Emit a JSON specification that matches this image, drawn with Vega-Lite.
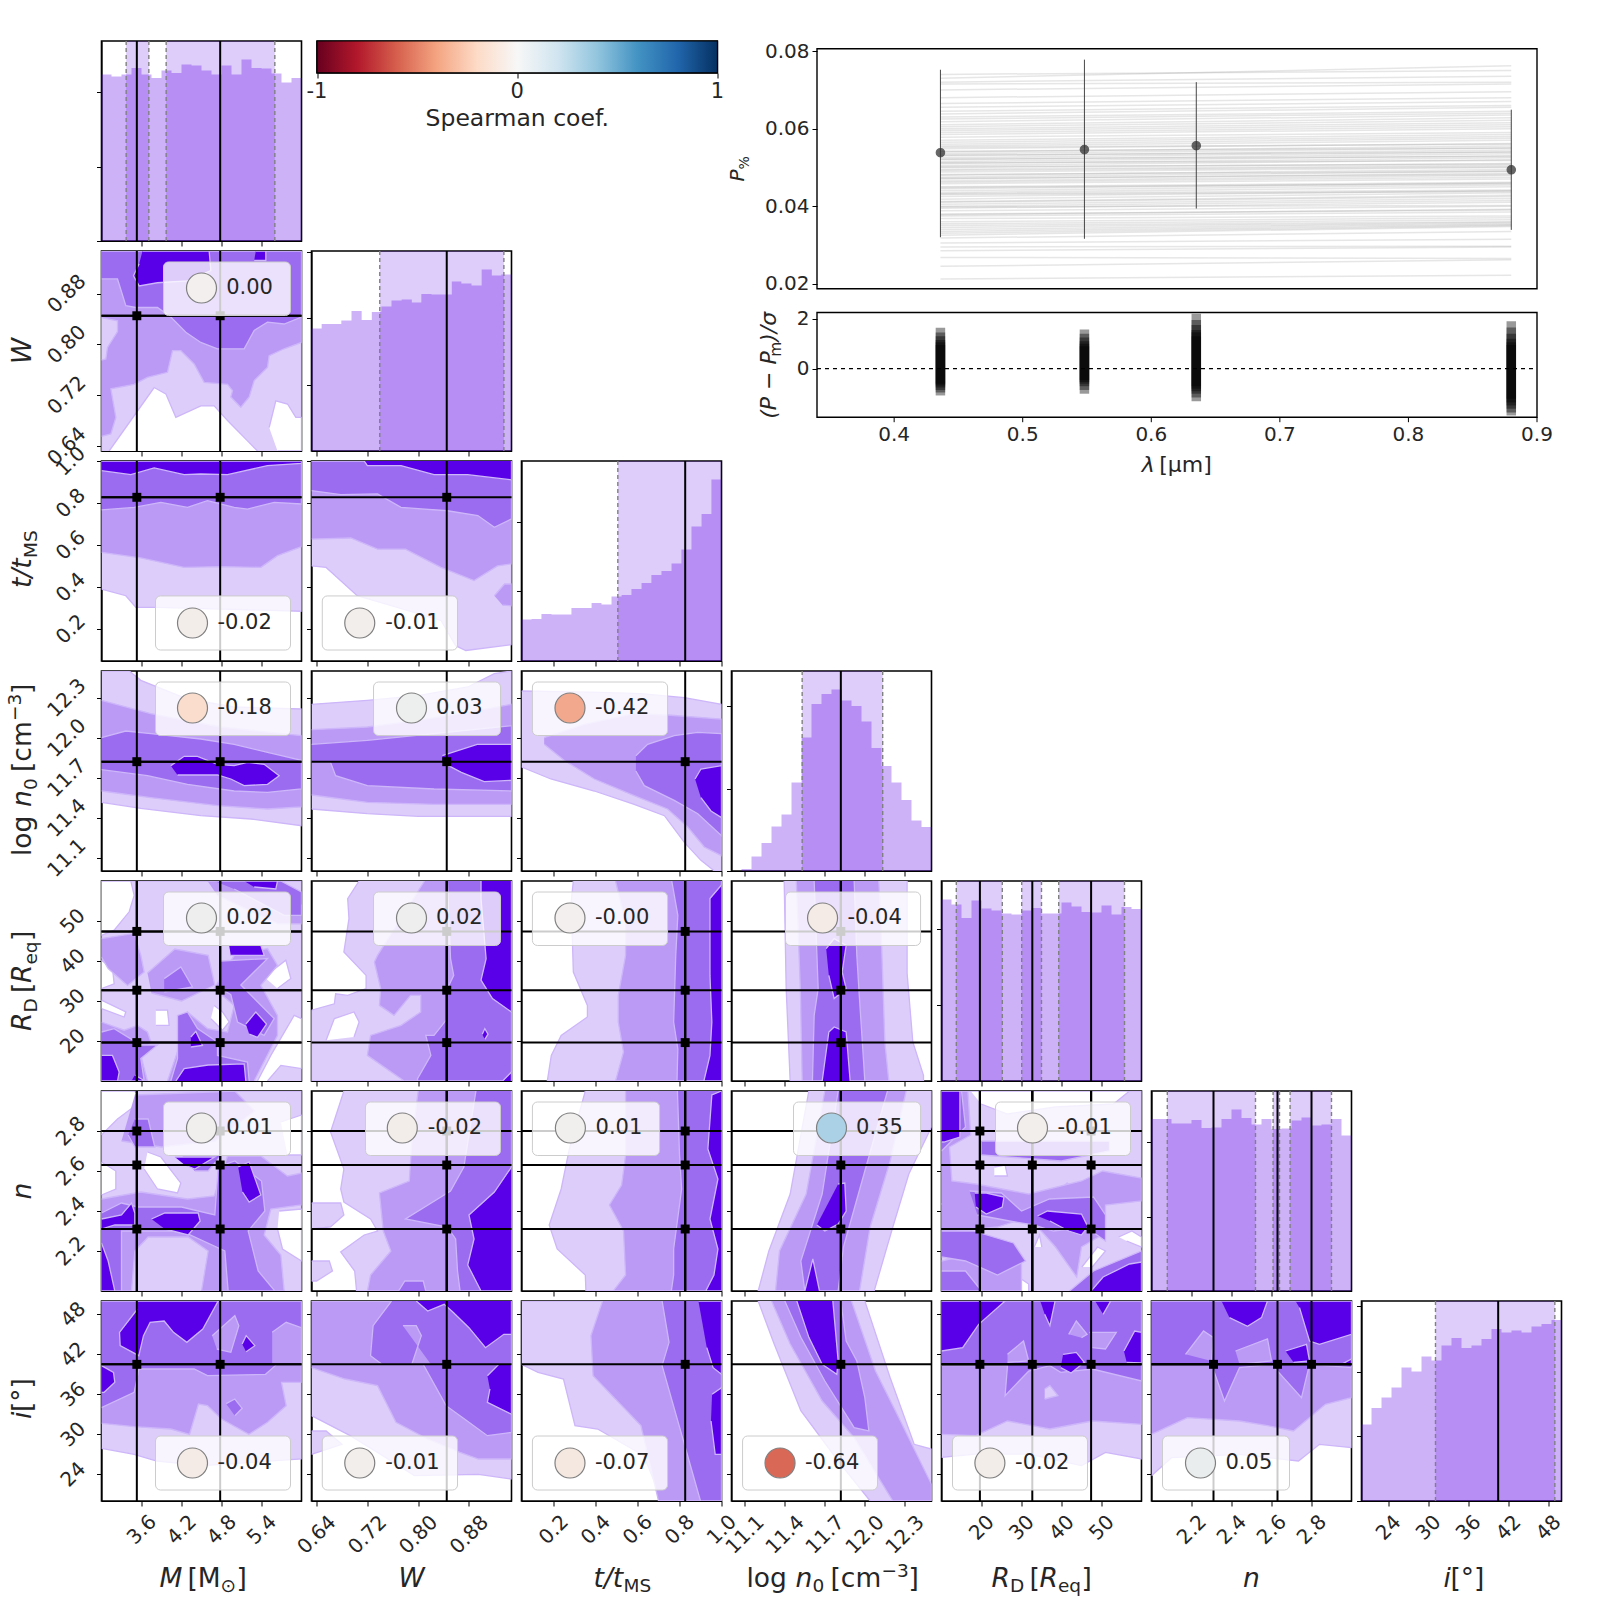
{"$schema":"https://vega.github.io/schema/vega-lite/v5.json","background":"#fff","padding":{"left":4.5,"top":39,"right":0,"bottom":0},
"config":{"legend":{"disable":true},"view":{"continuousWidth":200,"continuousHeight":200,"stroke":"#000","strokeWidth":1.6},
"range":{"ordinal":["#ffffff","#ddcdfa","#bb9af6","#9b6bf0","#5a00e8"]},
"axis":{"grid":false,"labels":false,"domain":true,"domainColor":"#000","domainWidth":1.2,"tickColor":"#000","tickSize":5,"tickWidth":1,"zindex":1,"labelFont":"DejaVu Sans","labelFontSize":20,"labelColor":"#262626","labelAngle":-45,"labelAlign":"center","labelBaseline":"middle","labelBound":false,"labelFlush":false,"labelOverlap":false},
"rule":{"color":"#000","strokeWidth":2},"square":{"size":80,"filled":true,"color":"#000","opacity":1},"circle":{"size":900,"stroke":"#808080","strokeWidth":1.2,"opacity":1},"text":{"font":"DejaVu Sans","fill":"#262626","baseline":"alphabetic","align":"left","fontSize":26.5}},
"datasets":{
"c21":[{"g":1,"l":1,"x":3,"y":0.632},{"g":1,"l":1,"x":3,"y":0.947},{"g":1,"l":1,"x":6,"y":0.947},{"g":1,"l":1,"x":6,"y":0.632},{"g":2,"l":0,"x":3.115,"y":0.632},{"g":2,"l":0,"x":3.54,"y":0.695},{"g":2,"l":0,"x":3.79,"y":0.732},{"g":2,"l":0,"x":3.965,"y":0.722},{"g":2,"l":0,"x":4.115,"y":0.685},{"g":2,"l":0,"x":4.49,"y":0.703},{"g":2,"l":0,"x":4.69,"y":0.703},{"g":2,"l":0,"x":4.89,"y":0.68},{"g":2,"l":0,"x":5.19,"y":0.648},{"g":2,"l":0,"x":5.34,"y":0.632},{"g":3,"l":0,"x":5.515,"y":0.669},{"g":3,"l":0,"x":5.615,"y":0.711},{"g":3,"l":0,"x":5.79,"y":0.706},{"g":3,"l":0,"x":5.915,"y":0.685},{"g":3,"l":0,"x":6,"y":0.685},{"g":3,"l":0,"x":6,"y":0.632},{"g":3,"l":0,"x":5.64,"y":0.632},{"g":4,"l":2,"x":3,"y":0.947},{"g":4,"l":2,"x":6,"y":0.947},{"g":4,"l":2,"x":6,"y":0.803},{"g":4,"l":2,"x":5.74,"y":0.793},{"g":4,"l":2,"x":5.515,"y":0.782},{"g":4,"l":2,"x":5.49,"y":0.764},{"g":4,"l":2,"x":5.29,"y":0.743},{"g":4,"l":2,"x":5.215,"y":0.717},{"g":4,"l":2,"x":5.09,"y":0.701},{"g":4,"l":2,"x":4.94,"y":0.717},{"g":4,"l":2,"x":4.965,"y":0.727},{"g":4,"l":2,"x":4.89,"y":0.737},{"g":4,"l":2,"x":4.54,"y":0.74},{"g":4,"l":2,"x":4.39,"y":0.769},{"g":4,"l":2,"x":4.19,"y":0.79},{"g":4,"l":2,"x":4.065,"y":0.79},{"g":4,"l":2,"x":3.99,"y":0.756},{"g":4,"l":2,"x":3.69,"y":0.748},{"g":4,"l":2,"x":3.49,"y":0.737},{"g":4,"l":2,"x":3.14,"y":0.73},{"g":4,"l":2,"x":3.215,"y":0.685},{"g":4,"l":2,"x":3.14,"y":0.659},{"g":4,"l":2,"x":3,"y":0.655},{"g":5,"l":1,"x":3,"y":0.842},{"g":5,"l":1,"x":3.24,"y":0.837},{"g":5,"l":1,"x":3.24,"y":0.82},{"g":5,"l":1,"x":3.09,"y":0.795},{"g":5,"l":1,"x":3.065,"y":0.777},{"g":5,"l":1,"x":3,"y":0.775},{"g":6,"l":3,"x":3,"y":0.947},{"g":6,"l":3,"x":6,"y":0.947},{"g":6,"l":3,"x":6,"y":0.843},{"g":6,"l":3,"x":5.74,"y":0.832},{"g":6,"l":3,"x":5.49,"y":0.835},{"g":6,"l":3,"x":5.29,"y":0.822},{"g":6,"l":3,"x":5.14,"y":0.793},{"g":6,"l":3,"x":4.74,"y":0.793},{"g":6,"l":3,"x":4.49,"y":0.803},{"g":6,"l":3,"x":4.265,"y":0.819},{"g":6,"l":3,"x":4.04,"y":0.843},{"g":6,"l":3,"x":3.84,"y":0.858},{"g":6,"l":3,"x":3.515,"y":0.858},{"g":6,"l":3,"x":3.365,"y":0.861},{"g":6,"l":3,"x":3.24,"y":0.903},{"g":6,"l":3,"x":3,"y":0.903},{"g":7,"l":4,"x":3.615,"y":0.947},{"g":7,"l":4,"x":4.615,"y":0.947},{"g":7,"l":4,"x":4.64,"y":0.916},{"g":7,"l":4,"x":4.29,"y":0.9},{"g":7,"l":4,"x":3.84,"y":0.897},{"g":7,"l":4,"x":3.565,"y":0.892},{"g":7,"l":4,"x":3.48,"y":0.908},{"g":7,"l":4,"x":3.565,"y":0.927},{"g":8,"l":4,"x":5.315,"y":0.947},{"g":8,"l":4,"x":5.465,"y":0.947},{"g":8,"l":4,"x":5.465,"y":0.932},{"g":8,"l":4,"x":5.29,"y":0.932}],
"c31":[{"g":1,"l":1,"x":3,"y":1},{"g":1,"l":1,"x":6,"y":1},{"g":1,"l":1,"x":6,"y":0.284},{"g":1,"l":1,"x":3.84,"y":0.303},{"g":1,"l":1,"x":3.515,"y":0.303},{"g":1,"l":1,"x":3.365,"y":0.358},{"g":1,"l":1,"x":3,"y":0.39},{"g":2,"l":2,"x":3,"y":1},{"g":2,"l":2,"x":6,"y":1},{"g":2,"l":2,"x":6,"y":0.592},{"g":2,"l":2,"x":5.64,"y":0.549},{"g":2,"l":2,"x":5.39,"y":0.493},{"g":2,"l":2,"x":4.79,"y":0.497},{"g":2,"l":2,"x":4.24,"y":0.493},{"g":2,"l":2,"x":3.59,"y":0.538},{"g":2,"l":2,"x":3,"y":0.565},{"g":3,"l":3,"x":3,"y":1},{"g":3,"l":3,"x":6,"y":1},{"g":3,"l":3,"x":6,"y":0.795},{"g":3,"l":3,"x":5.59,"y":0.803},{"g":3,"l":3,"x":5.19,"y":0.771},{"g":3,"l":3,"x":4.99,"y":0.779},{"g":3,"l":3,"x":4.59,"y":0.811},{"g":3,"l":3,"x":4.29,"y":0.779},{"g":3,"l":3,"x":3.89,"y":0.803},{"g":3,"l":3,"x":3.49,"y":0.779},{"g":3,"l":3,"x":3,"y":0.767},{"g":4,"l":4,"x":3,"y":1},{"g":4,"l":4,"x":6,"y":1},{"g":4,"l":4,"x":6,"y":0.989},{"g":4,"l":4,"x":5.49,"y":0.978},{"g":4,"l":4,"x":4.89,"y":0.935},{"g":4,"l":4,"x":4.49,"y":0.938},{"g":4,"l":4,"x":4.24,"y":0.935},{"g":4,"l":4,"x":3.79,"y":0.967},{"g":4,"l":4,"x":3.44,"y":0.935},{"g":4,"l":4,"x":3,"y":0.954}],
"c41":[{"g":1,"l":1,"x":3,"y":12.5},{"g":1,"l":1,"x":3.415,"y":12.5},{"g":1,"l":1,"x":3.59,"y":12.43},{"g":1,"l":1,"x":4.29,"y":12.29},{"g":1,"l":1,"x":4.99,"y":12.23},{"g":1,"l":1,"x":6,"y":12.215},{"g":1,"l":1,"x":6,"y":11.34},{"g":1,"l":1,"x":5.24,"y":11.39},{"g":1,"l":1,"x":4.49,"y":11.415},{"g":1,"l":1,"x":3.59,"y":11.47},{"g":1,"l":1,"x":3,"y":11.515},{"g":2,"l":2,"x":3,"y":12.28},{"g":2,"l":2,"x":3.74,"y":12.18},{"g":2,"l":2,"x":4.79,"y":12.08},{"g":2,"l":2,"x":6,"y":12.015},{"g":2,"l":2,"x":6,"y":11.48},{"g":2,"l":2,"x":5.49,"y":11.465},{"g":2,"l":2,"x":4.74,"y":11.49},{"g":2,"l":2,"x":3.74,"y":11.55},{"g":2,"l":2,"x":3,"y":11.6},{"g":3,"l":3,"x":3,"y":12},{"g":3,"l":3,"x":3.365,"y":12.05},{"g":3,"l":3,"x":3.74,"y":12.03},{"g":3,"l":3,"x":4.49,"y":11.99},{"g":3,"l":3,"x":4.99,"y":11.95},{"g":3,"l":3,"x":5.49,"y":11.89},{"g":3,"l":3,"x":6,"y":11.83},{"g":3,"l":3,"x":6,"y":11.615},{"g":3,"l":3,"x":5.49,"y":11.59},{"g":3,"l":3,"x":4.99,"y":11.6},{"g":3,"l":3,"x":4.29,"y":11.65},{"g":3,"l":3,"x":3.69,"y":11.715},{"g":3,"l":3,"x":3,"y":11.76},{"g":4,"l":4,"x":4.04,"y":11.79},{"g":4,"l":4,"x":4.24,"y":11.86},{"g":4,"l":4,"x":4.44,"y":11.86},{"g":4,"l":4,"x":4.74,"y":11.8},{"g":4,"l":4,"x":4.99,"y":11.79},{"g":4,"l":4,"x":5.19,"y":11.815},{"g":4,"l":4,"x":5.44,"y":11.8},{"g":4,"l":4,"x":5.665,"y":11.715},{"g":4,"l":4,"x":5.49,"y":11.65},{"g":4,"l":4,"x":5.14,"y":11.64},{"g":4,"l":4,"x":4.94,"y":11.69},{"g":4,"l":4,"x":4.74,"y":11.72},{"g":4,"l":4,"x":4.14,"y":11.72}],
"c51":[{"g":1,"l":1,"x":3,"y":10},{"g":1,"l":1,"x":3,"y":60},{"g":1,"l":1,"x":6,"y":60},{"g":1,"l":1,"x":6,"y":10},{"g":2,"l":0,"x":3,"y":60},{"g":2,"l":0,"x":3.44,"y":60},{"g":2,"l":0,"x":3.49,"y":56.4},{"g":2,"l":0,"x":3.415,"y":52.3},{"g":2,"l":0,"x":3.19,"y":47.7},{"g":2,"l":0,"x":3,"y":46.4},{"g":3,"l":0,"x":3,"y":40.2},{"g":3,"l":0,"x":3.165,"y":38.1},{"g":3,"l":0,"x":3.19,"y":34.3},{"g":3,"l":0,"x":3,"y":33.1},{"g":4,"l":0,"x":3,"y":30.2},{"g":4,"l":0,"x":3.365,"y":27.3},{"g":4,"l":0,"x":3.34,"y":26},{"g":4,"l":0,"x":3,"y":28.1},{"g":5,"l":0,"x":3.815,"y":27.7},{"g":5,"l":0,"x":3.99,"y":27.7},{"g":5,"l":0,"x":4.015,"y":23.9},{"g":5,"l":0,"x":3.815,"y":23.9},{"g":6,"l":0,"x":4.69,"y":28.9},{"g":6,"l":0,"x":4.815,"y":27.3},{"g":6,"l":0,"x":4.915,"y":24.75},{"g":6,"l":0,"x":4.815,"y":22.7},{"g":6,"l":0,"x":4.64,"y":25.6},{"g":7,"l":0,"x":5.44,"y":36},{"g":7,"l":0,"x":5.765,"y":40.2},{"g":7,"l":0,"x":5.84,"y":35.6},{"g":7,"l":0,"x":5.64,"y":33.1},{"g":8,"l":0,"x":5.34,"y":10},{"g":8,"l":0,"x":5.54,"y":16.4},{"g":8,"l":0,"x":5.89,"y":26.4},{"g":8,"l":0,"x":6,"y":25.6},{"g":8,"l":0,"x":6,"y":13.1},{"g":8,"l":0,"x":5.69,"y":13.9},{"g":8,"l":0,"x":5.49,"y":10},{"g":9,"l":2,"x":3,"y":24.75},{"g":9,"l":2,"x":3.34,"y":22.7},{"g":9,"l":2,"x":3.54,"y":23.9},{"g":9,"l":2,"x":3.69,"y":22.25},{"g":9,"l":2,"x":3.74,"y":19.75},{"g":9,"l":2,"x":3.59,"y":16.4},{"g":9,"l":2,"x":3.69,"y":10},{"g":9,"l":2,"x":3,"y":10},{"g":10,"l":2,"x":3.99,"y":10},{"g":10,"l":2,"x":4.19,"y":19.75},{"g":10,"l":2,"x":4.29,"y":27.25},{"g":10,"l":2,"x":4.59,"y":23.1},{"g":10,"l":2,"x":4.89,"y":22.25},{"g":10,"l":2,"x":4.99,"y":28.9},{"g":10,"l":2,"x":4.69,"y":33.1},{"g":10,"l":2,"x":4.99,"y":41.4},{"g":10,"l":2,"x":5.49,"y":43.1},{"g":10,"l":2,"x":5.64,"y":38.9},{"g":10,"l":2,"x":5.39,"y":33.9},{"g":10,"l":2,"x":5.64,"y":26.4},{"g":10,"l":2,"x":5.64,"y":21.4},{"g":10,"l":2,"x":5.29,"y":10},{"g":11,"l":2,"x":4.59,"y":60},{"g":11,"l":2,"x":5.69,"y":60},{"g":11,"l":2,"x":6,"y":53.9},{"g":11,"l":2,"x":6,"y":49.3},{"g":11,"l":2,"x":5.65,"y":49.3},{"g":11,"l":2,"x":4.74,"y":56.4},{"g":12,"l":2,"x":3,"y":45.6},{"g":12,"l":2,"x":3.49,"y":46.9},{"g":12,"l":2,"x":3.59,"y":41.4},{"g":12,"l":2,"x":3.64,"y":37.25},{"g":12,"l":2,"x":3.39,"y":33.9},{"g":12,"l":2,"x":3.1,"y":38.1},{"g":12,"l":2,"x":3,"y":41},{"g":13,"l":2,"x":3.69,"y":37},{"g":13,"l":2,"x":4.1,"y":43},{"g":13,"l":2,"x":4.6,"y":41.4},{"g":13,"l":2,"x":4.7,"y":34},{"g":13,"l":2,"x":4.2,"y":30},{"g":13,"l":2,"x":3.75,"y":32},{"g":14,"l":3,"x":3,"y":22.25},{"g":14,"l":3,"x":3.19,"y":23.1},{"g":14,"l":3,"x":3.59,"y":19},{"g":14,"l":3,"x":3.84,"y":19},{"g":14,"l":3,"x":3.59,"y":15.6},{"g":14,"l":3,"x":3.64,"y":10},{"g":14,"l":3,"x":3,"y":10},{"g":15,"l":3,"x":4.04,"y":10},{"g":15,"l":3,"x":4.14,"y":15.6},{"g":15,"l":3,"x":4.14,"y":26.4},{"g":15,"l":3,"x":4.29,"y":27.25},{"g":15,"l":3,"x":4.44,"y":23.1},{"g":15,"l":3,"x":4.74,"y":19.75},{"g":15,"l":3,"x":4.74,"y":16.4},{"g":15,"l":3,"x":5.19,"y":14.75},{"g":15,"l":3,"x":5.215,"y":10},{"g":16,"l":3,"x":4.79,"y":40},{"g":16,"l":3,"x":5.49,"y":40.6},{"g":16,"l":3,"x":5.09,"y":34},{"g":16,"l":3,"x":5.59,"y":25.6},{"g":16,"l":3,"x":5.44,"y":21.4},{"g":16,"l":3,"x":5.04,"y":24.75},{"g":16,"l":3,"x":4.94,"y":31.6},{"g":16,"l":3,"x":4.79,"y":33.1},{"g":17,"l":3,"x":4.69,"y":60},{"g":17,"l":3,"x":5.69,"y":60},{"g":17,"l":3,"x":6,"y":57.25},{"g":17,"l":3,"x":6,"y":51.4},{"g":17,"l":3,"x":5.74,"y":51.4},{"g":17,"l":3,"x":4.99,"y":58},{"g":18,"l":3,"x":3.94,"y":35.6},{"g":18,"l":3,"x":4.19,"y":38.5},{"g":18,"l":3,"x":4.365,"y":33.5},{"g":18,"l":3,"x":3.94,"y":32.25},{"g":19,"l":4,"x":3,"y":16.4},{"g":19,"l":4,"x":3.165,"y":16.4},{"g":19,"l":4,"x":3.265,"y":12.25},{"g":19,"l":4,"x":3.24,"y":10},{"g":19,"l":4,"x":3,"y":10},{"g":20,"l":4,"x":4.115,"y":10},{"g":20,"l":4,"x":4.24,"y":13.1},{"g":20,"l":4,"x":4.6,"y":14},{"g":20,"l":4,"x":5.14,"y":14.3},{"g":20,"l":4,"x":5.165,"y":10},{"g":21,"l":4,"x":5.165,"y":24.25},{"g":21,"l":4,"x":5.315,"y":27.25},{"g":21,"l":4,"x":5.475,"y":24.25},{"g":21,"l":4,"x":5.34,"y":20.9},{"g":21,"l":4,"x":5.215,"y":21.75},{"g":22,"l":4,"x":4.34,"y":21},{"g":22,"l":4,"x":4.415,"y":22.4},{"g":22,"l":4,"x":4.515,"y":18.9},{"g":22,"l":4,"x":4.34,"y":18.5},{"g":23,"l":4,"x":4.915,"y":43.9},{"g":23,"l":4,"x":5.39,"y":43.9},{"g":23,"l":4,"x":5.44,"y":41.4},{"g":23,"l":4,"x":4.94,"y":41.4},{"g":24,"l":4,"x":5.14,"y":60},{"g":24,"l":4,"x":5.64,"y":60},{"g":24,"l":4,"x":5.615,"y":58},{"g":24,"l":4,"x":5.29,"y":58.5},{"g":25,"l":4,"x":3.5,"y":11.5},{"g":25,"l":4,"x":3.65,"y":10},{"g":25,"l":4,"x":3.45,"y":10}],
"c61":[{"g":1,"l":1,"x":3,"y":2},{"g":1,"l":1,"x":3,"y":3},{"g":1,"l":1,"x":6,"y":3},{"g":1,"l":1,"x":6,"y":2},{"g":2,"l":0,"x":3,"y":3},{"g":2,"l":0,"x":3.49,"y":3},{"g":2,"l":0,"x":3.64,"y":2.96},{"g":2,"l":0,"x":3.24,"y":2.86},{"g":2,"l":0,"x":3,"y":2.78},{"g":3,"l":0,"x":3,"y":2.645},{"g":3,"l":0,"x":3.215,"y":2.6},{"g":3,"l":0,"x":3.215,"y":2.51},{"g":3,"l":0,"x":3,"y":2.48},{"g":4,"l":0,"x":3.69,"y":2.695},{"g":4,"l":0,"x":3.89,"y":2.67},{"g":4,"l":0,"x":4.19,"y":2.54},{"g":4,"l":0,"x":4.14,"y":2.49},{"g":4,"l":0,"x":3.84,"y":2.51},{"g":4,"l":0,"x":3.64,"y":2.61},{"g":5,"l":0,"x":5.665,"y":2.4},{"g":5,"l":0,"x":6,"y":2.41},{"g":5,"l":0,"x":6,"y":2.15},{"g":5,"l":0,"x":5.715,"y":2.21},{"g":5,"l":0,"x":5.64,"y":2.31},{"g":6,"l":0,"x":5.69,"y":2.845},{"g":6,"l":0,"x":6,"y":2.88},{"g":6,"l":0,"x":6,"y":2.68},{"g":6,"l":0,"x":5.79,"y":2.68},{"g":7,"l":2,"x":3,"y":2.46},{"g":7,"l":2,"x":3.59,"y":2.495},{"g":7,"l":2,"x":4.29,"y":2.46},{"g":7,"l":2,"x":4.69,"y":2.475},{"g":7,"l":2,"x":4.89,"y":2.675},{"g":7,"l":2,"x":5.39,"y":2.675},{"g":7,"l":2,"x":5.79,"y":2.575},{"g":7,"l":2,"x":6,"y":2.59},{"g":7,"l":2,"x":6,"y":2.43},{"g":7,"l":2,"x":5.54,"y":2.41},{"g":7,"l":2,"x":5.44,"y":2.28},{"g":7,"l":2,"x":5.69,"y":2.18},{"g":7,"l":2,"x":5.74,"y":2},{"g":7,"l":2,"x":4.5,"y":2},{"g":7,"l":2,"x":4.6,"y":2.2},{"g":7,"l":2,"x":4.3,"y":2.27},{"g":7,"l":2,"x":3.7,"y":2.27},{"g":7,"l":2,"x":3.5,"y":2.2},{"g":7,"l":2,"x":3.45,"y":2},{"g":7,"l":2,"x":3,"y":2},{"g":8,"l":2,"x":3.5,"y":2.98},{"g":8,"l":2,"x":5,"y":3},{"g":8,"l":2,"x":5.3,"y":2.9},{"g":8,"l":2,"x":4.7,"y":2.75},{"g":8,"l":2,"x":3.9,"y":2.72},{"g":8,"l":2,"x":3.3,"y":2.75},{"g":9,"l":3,"x":3,"y":2.39},{"g":9,"l":3,"x":3.3,"y":2.44},{"g":9,"l":3,"x":3.55,"y":2.42},{"g":9,"l":3,"x":4.2,"y":2.42},{"g":9,"l":3,"x":4.7,"y":2.38},{"g":9,"l":3,"x":4.75,"y":2.62},{"g":9,"l":3,"x":5,"y":2.65},{"g":9,"l":3,"x":5.4,"y":2.55},{"g":9,"l":3,"x":5.45,"y":2.4},{"g":9,"l":3,"x":5.2,"y":2.3},{"g":9,"l":3,"x":5.35,"y":2.1},{"g":9,"l":3,"x":5.6,"y":2},{"g":9,"l":3,"x":4.9,"y":2},{"g":9,"l":3,"x":4.85,"y":2.2},{"g":9,"l":3,"x":4.2,"y":2.3},{"g":9,"l":3,"x":3.6,"y":2.3},{"g":9,"l":3,"x":3.3,"y":2.3},{"g":9,"l":3,"x":3.3,"y":2},{"g":9,"l":3,"x":3,"y":2},{"g":10,"l":3,"x":3.5,"y":2.86},{"g":10,"l":3,"x":3.7,"y":2.86},{"g":10,"l":3,"x":3.8,"y":2.72},{"g":10,"l":3,"x":3.5,"y":2.72},{"g":10,"l":3,"x":3.4,"y":2.78},{"g":11,"l":3,"x":4.2,"y":2.68},{"g":11,"l":3,"x":4.8,"y":2.68},{"g":11,"l":3,"x":4.6,"y":2.6},{"g":11,"l":3,"x":4.4,"y":2.6},{"g":12,"l":4,"x":3,"y":2.36},{"g":12,"l":4,"x":3.3,"y":2.38},{"g":12,"l":4,"x":3.45,"y":2.44},{"g":12,"l":4,"x":3.5,"y":2.39},{"g":12,"l":4,"x":3.5,"y":2.33},{"g":12,"l":4,"x":3.2,"y":2.33},{"g":12,"l":4,"x":3,"y":2.31},{"g":13,"l":4,"x":3.75,"y":2.36},{"g":13,"l":4,"x":3.95,"y":2.39},{"g":13,"l":4,"x":4.45,"y":2.39},{"g":13,"l":4,"x":4.48,"y":2.35},{"g":13,"l":4,"x":4.3,"y":2.28},{"g":13,"l":4,"x":3.95,"y":2.31},{"g":14,"l":4,"x":5.05,"y":2.62},{"g":14,"l":4,"x":5.215,"y":2.645},{"g":14,"l":4,"x":5.39,"y":2.48},{"g":14,"l":4,"x":5.215,"y":2.445},{"g":14,"l":4,"x":5.115,"y":2.495},{"g":15,"l":4,"x":3,"y":2.24},{"g":15,"l":4,"x":3.1,"y":2.15},{"g":15,"l":4,"x":3.2,"y":2},{"g":15,"l":4,"x":3,"y":2},{"g":16,"l":4,"x":4.1,"y":2.67},{"g":16,"l":4,"x":4.7,"y":2.67},{"g":16,"l":4,"x":4.4,"y":2.61},{"g":16,"l":4,"x":4.25,"y":2.63}],
"c71":[{"g":1,"l":1,"x":3,"y":50},{"g":1,"l":1,"x":6,"y":50},{"g":1,"l":1,"x":6,"y":26.3},{"g":1,"l":1,"x":4.52,"y":25.3},{"g":1,"l":1,"x":3.83,"y":26},{"g":1,"l":1,"x":3.49,"y":27},{"g":1,"l":1,"x":3,"y":27.9},{"g":2,"l":2,"x":3,"y":50},{"g":2,"l":2,"x":6,"y":50},{"g":2,"l":2,"x":6,"y":37.8},{"g":2,"l":2,"x":5.7,"y":37.8},{"g":2,"l":2,"x":5.77,"y":34.3},{"g":2,"l":2,"x":5.49,"y":31.8},{"g":2,"l":2,"x":5.21,"y":30},{"g":2,"l":2,"x":4.8,"y":32.3},{"g":2,"l":2,"x":4.59,"y":34.3},{"g":2,"l":2,"x":4.455,"y":34.55},{"g":2,"l":2,"x":4.32,"y":30},{"g":2,"l":2,"x":4.04,"y":30.8},{"g":2,"l":2,"x":3.49,"y":31.15},{"g":2,"l":2,"x":3,"y":31.65},{"g":3,"l":3,"x":3,"y":50},{"g":3,"l":3,"x":6,"y":50},{"g":3,"l":3,"x":6,"y":40.5},{"g":3,"l":3,"x":5.63,"y":40.5},{"g":3,"l":3,"x":5.46,"y":39},{"g":3,"l":3,"x":4.59,"y":38.8},{"g":3,"l":3,"x":4.39,"y":39.8},{"g":3,"l":3,"x":3.56,"y":39.8},{"g":3,"l":3,"x":3.49,"y":36.3},{"g":3,"l":3,"x":3,"y":34},{"g":4,"l":2,"x":4.66,"y":44.8},{"g":4,"l":2,"x":5,"y":47.8},{"g":4,"l":2,"x":5.06,"y":46.3},{"g":4,"l":2,"x":4.94,"y":42.3},{"g":4,"l":2,"x":4.73,"y":42.8},{"g":5,"l":2,"x":5.56,"y":45.3},{"g":5,"l":2,"x":5.77,"y":46.8},{"g":5,"l":2,"x":6,"y":46},{"g":5,"l":2,"x":6,"y":40.5},{"g":5,"l":2,"x":5.56,"y":40.5},{"g":6,"l":3,"x":4.87,"y":34.6},{"g":6,"l":3,"x":5,"y":35.3},{"g":6,"l":3,"x":5.11,"y":33.9},{"g":6,"l":3,"x":5,"y":32.8},{"g":7,"l":4,"x":3.54,"y":50},{"g":7,"l":4,"x":4.75,"y":50},{"g":7,"l":4,"x":4.52,"y":45.8},{"g":7,"l":4,"x":4.28,"y":43.8},{"g":7,"l":4,"x":4.08,"y":45.3},{"g":7,"l":4,"x":3.94,"y":47},{"g":7,"l":4,"x":3.73,"y":46.8},{"g":7,"l":4,"x":3.63,"y":44.8},{"g":7,"l":4,"x":3.56,"y":41.8},{"g":7,"l":4,"x":3.28,"y":43.3},{"g":7,"l":4,"x":3.27,"y":45.3},{"g":7,"l":4,"x":3.54,"y":48.8},{"g":8,"l":4,"x":3,"y":40.3},{"g":8,"l":4,"x":3.18,"y":39.3},{"g":8,"l":4,"x":3.2,"y":37.8},{"g":8,"l":4,"x":3.04,"y":36.3},{"g":8,"l":4,"x":3,"y":36.3},{"g":9,"l":4,"x":5.11,"y":43.55},{"g":9,"l":4,"x":5.17,"y":44.8},{"g":9,"l":4,"x":5.3,"y":43.3},{"g":9,"l":4,"x":5.17,"y":42.4}],
"c32":[{"g":1,"l":1,"x":0.632,"y":1},{"g":1,"l":1,"x":0.947,"y":1},{"g":1,"l":1,"x":0.947,"y":0.125},{"g":1,"l":1,"x":0.875,"y":0.097},{"g":1,"l":1,"x":0.859,"y":0.12},{"g":1,"l":1,"x":0.836,"y":0.24},{"g":1,"l":1,"x":0.767,"y":0.303},{"g":1,"l":1,"x":0.704,"y":0.358},{"g":1,"l":1,"x":0.655,"y":0.493},{"g":1,"l":1,"x":0.632,"y":0.5},{"g":2,"l":2,"x":0.632,"y":1},{"g":2,"l":2,"x":0.947,"y":1},{"g":2,"l":2,"x":0.947,"y":0.51},{"g":2,"l":2,"x":0.925,"y":0.5},{"g":2,"l":2,"x":0.888,"y":0.43},{"g":2,"l":2,"x":0.836,"y":0.493},{"g":2,"l":2,"x":0.78,"y":0.58},{"g":2,"l":2,"x":0.736,"y":0.58},{"g":2,"l":2,"x":0.694,"y":0.633},{"g":2,"l":2,"x":0.632,"y":0.628},{"g":3,"l":2,"x":0.92,"y":0.358},{"g":3,"l":2,"x":0.936,"y":0.414},{"g":3,"l":2,"x":0.947,"y":0.414},{"g":3,"l":2,"x":0.947,"y":0.31},{"g":3,"l":2,"x":0.933,"y":0.313},{"g":4,"l":3,"x":0.632,"y":1},{"g":4,"l":3,"x":0.947,"y":1},{"g":4,"l":3,"x":0.947,"y":0.724},{"g":4,"l":3,"x":0.92,"y":0.684},{"g":4,"l":3,"x":0.894,"y":0.74},{"g":4,"l":3,"x":0.846,"y":0.763},{"g":4,"l":3,"x":0.773,"y":0.779},{"g":4,"l":3,"x":0.736,"y":0.843},{"g":4,"l":3,"x":0.678,"y":0.84},{"g":4,"l":3,"x":0.632,"y":0.859},{"g":5,"l":4,"x":0.715,"y":1},{"g":5,"l":4,"x":0.72,"y":0.978},{"g":5,"l":4,"x":0.773,"y":0.978},{"g":5,"l":4,"x":0.825,"y":0.935},{"g":5,"l":4,"x":0.878,"y":0.935},{"g":5,"l":4,"x":0.947,"y":0.91},{"g":5,"l":4,"x":0.947,"y":1}],
"c42":[{"g":1,"l":1,"x":0.632,"y":12.25},{"g":1,"l":1,"x":0.72,"y":12.28},{"g":1,"l":1,"x":0.8,"y":12.315},{"g":1,"l":1,"x":0.878,"y":12.38},{"g":1,"l":1,"x":0.92,"y":12.48},{"g":1,"l":1,"x":0.947,"y":12.5},{"g":1,"l":1,"x":0.947,"y":11.41},{"g":1,"l":1,"x":0.8,"y":11.41},{"g":1,"l":1,"x":0.72,"y":11.43},{"g":1,"l":1,"x":0.632,"y":11.465},{"g":2,"l":2,"x":0.632,"y":12.06},{"g":2,"l":2,"x":0.72,"y":12.08},{"g":2,"l":2,"x":0.8,"y":12.13},{"g":2,"l":2,"x":0.878,"y":12.19},{"g":2,"l":2,"x":0.947,"y":12.25},{"g":2,"l":2,"x":0.947,"y":11.5},{"g":2,"l":2,"x":0.825,"y":11.5},{"g":2,"l":2,"x":0.72,"y":11.515},{"g":2,"l":2,"x":0.632,"y":11.57},{"g":3,"l":3,"x":0.632,"y":11.95},{"g":3,"l":3,"x":0.72,"y":11.98},{"g":3,"l":3,"x":0.825,"y":12.03},{"g":3,"l":3,"x":0.947,"y":12.09},{"g":3,"l":3,"x":0.947,"y":11.6},{"g":3,"l":3,"x":0.825,"y":11.615},{"g":3,"l":3,"x":0.72,"y":11.64},{"g":3,"l":3,"x":0.67,"y":11.715},{"g":3,"l":3,"x":0.662,"y":11.815},{"g":3,"l":3,"x":0.632,"y":11.82},{"g":4,"l":4,"x":0.838,"y":11.865},{"g":4,"l":4,"x":0.893,"y":11.95},{"g":4,"l":4,"x":0.947,"y":11.95},{"g":4,"l":4,"x":0.947,"y":11.68},{"g":4,"l":4,"x":0.904,"y":11.67},{"g":4,"l":4,"x":0.868,"y":11.74},{"g":4,"l":4,"x":0.838,"y":11.815}],
"c52":[{"g":1,"l":1,"x":0.707,"y":60},{"g":1,"l":1,"x":0.689,"y":55.6},{"g":1,"l":1,"x":0.691,"y":50.6},{"g":1,"l":1,"x":0.683,"y":42.25},{"g":1,"l":1,"x":0.718,"y":36.4},{"g":1,"l":1,"x":0.718,"y":33.1},{"g":1,"l":1,"x":0.689,"y":31.4},{"g":1,"l":1,"x":0.67,"y":31.8},{"g":1,"l":1,"x":0.668,"y":29.3},{"g":1,"l":1,"x":0.632,"y":27.7},{"g":1,"l":1,"x":0.632,"y":10},{"g":1,"l":1,"x":0.947,"y":10},{"g":1,"l":1,"x":0.947,"y":60},{"g":2,"l":0,"x":0.655,"y":20.2},{"g":2,"l":0,"x":0.668,"y":25.6},{"g":2,"l":0,"x":0.699,"y":27.25},{"g":2,"l":0,"x":0.707,"y":24.75},{"g":2,"l":0,"x":0.699,"y":21},{"g":3,"l":2,"x":0.81,"y":60},{"g":3,"l":2,"x":0.736,"y":41.4},{"g":3,"l":2,"x":0.731,"y":39.75},{"g":3,"l":2,"x":0.741,"y":33.1},{"g":3,"l":2,"x":0.739,"y":28.9},{"g":3,"l":2,"x":0.762,"y":26.4},{"g":3,"l":2,"x":0.788,"y":31.4},{"g":3,"l":2,"x":0.804,"y":31.4},{"g":3,"l":2,"x":0.804,"y":27.25},{"g":3,"l":2,"x":0.773,"y":23.9},{"g":3,"l":2,"x":0.725,"y":21.4},{"g":3,"l":2,"x":0.72,"y":16.4},{"g":3,"l":2,"x":0.778,"y":10},{"g":3,"l":2,"x":0.947,"y":10},{"g":3,"l":2,"x":0.947,"y":60},{"g":4,"l":3,"x":0.846,"y":60},{"g":4,"l":3,"x":0.851,"y":40.6},{"g":4,"l":3,"x":0.856,"y":36.4},{"g":4,"l":3,"x":0.846,"y":33.1},{"g":4,"l":3,"x":0.846,"y":25.6},{"g":4,"l":3,"x":0.825,"y":21.4},{"g":4,"l":3,"x":0.812,"y":21.4},{"g":4,"l":3,"x":0.82,"y":16.4},{"g":4,"l":3,"x":0.799,"y":10.6},{"g":4,"l":3,"x":0.799,"y":10},{"g":4,"l":3,"x":0.947,"y":10},{"g":4,"l":3,"x":0.947,"y":60},{"g":5,"l":4,"x":0.899,"y":60},{"g":5,"l":4,"x":0.899,"y":55.6},{"g":5,"l":4,"x":0.907,"y":40.6},{"g":5,"l":4,"x":0.899,"y":35.2},{"g":5,"l":4,"x":0.917,"y":30.6},{"g":5,"l":4,"x":0.947,"y":27.25},{"g":5,"l":4,"x":0.947,"y":60},{"g":6,"l":4,"x":0.901,"y":21.7},{"g":6,"l":4,"x":0.905,"y":23.1},{"g":6,"l":4,"x":0.91,"y":21.7},{"g":6,"l":4,"x":0.905,"y":20.4},{"g":7,"l":4,"x":0.933,"y":10},{"g":7,"l":4,"x":0.947,"y":12.25},{"g":7,"l":4,"x":0.947,"y":10}],
"c62":[{"g":1,"l":1,"x":0.683,"y":3},{"g":1,"l":1,"x":0.662,"y":2.795},{"g":1,"l":1,"x":0.683,"y":2.61},{"g":1,"l":1,"x":0.678,"y":2.51},{"g":1,"l":1,"x":0.683,"y":2.445},{"g":1,"l":1,"x":0.725,"y":2.36},{"g":1,"l":1,"x":0.736,"y":2.3},{"g":1,"l":1,"x":0.715,"y":2.28},{"g":1,"l":1,"x":0.678,"y":2.195},{"g":1,"l":1,"x":0.7,"y":2.1},{"g":1,"l":1,"x":0.703,"y":2},{"g":1,"l":1,"x":0.947,"y":2},{"g":1,"l":1,"x":0.947,"y":3},{"g":2,"l":1,"x":0.632,"y":2.44},{"g":2,"l":1,"x":0.678,"y":2.44},{"g":2,"l":1,"x":0.683,"y":2.38},{"g":2,"l":1,"x":0.662,"y":2.32},{"g":2,"l":1,"x":0.632,"y":2.31},{"g":3,"l":1,"x":0.632,"y":2.15},{"g":3,"l":1,"x":0.66,"y":2.15},{"g":3,"l":1,"x":0.665,"y":2.1},{"g":3,"l":1,"x":0.64,"y":2.05},{"g":3,"l":1,"x":0.632,"y":2.05},{"g":4,"l":2,"x":0.8,"y":3},{"g":4,"l":2,"x":0.79,"y":2.75},{"g":4,"l":2,"x":0.786,"y":2.55},{"g":4,"l":2,"x":0.739,"y":2.49},{"g":4,"l":2,"x":0.745,"y":2.3},{"g":4,"l":2,"x":0.757,"y":2.2},{"g":4,"l":2,"x":0.725,"y":2.08},{"g":4,"l":2,"x":0.72,"y":2},{"g":4,"l":2,"x":0.947,"y":2},{"g":4,"l":2,"x":0.947,"y":3},{"g":5,"l":3,"x":0.891,"y":3},{"g":5,"l":3,"x":0.872,"y":2.62},{"g":5,"l":3,"x":0.851,"y":2.5},{"g":5,"l":3,"x":0.78,"y":2.36},{"g":5,"l":3,"x":0.846,"y":2.32},{"g":5,"l":3,"x":0.859,"y":2.26},{"g":5,"l":3,"x":0.862,"y":2.1},{"g":5,"l":3,"x":0.866,"y":2},{"g":5,"l":3,"x":0.947,"y":2},{"g":5,"l":3,"x":0.947,"y":3},{"g":6,"l":3,"x":0.769,"y":2},{"g":6,"l":3,"x":0.779,"y":2.05},{"g":6,"l":3,"x":0.808,"y":2.05},{"g":6,"l":3,"x":0.812,"y":2},{"g":7,"l":4,"x":0.947,"y":2.62},{"g":7,"l":4,"x":0.92,"y":2.495},{"g":7,"l":4,"x":0.88,"y":2.38},{"g":7,"l":4,"x":0.888,"y":2.26},{"g":7,"l":4,"x":0.878,"y":2.13},{"g":7,"l":4,"x":0.899,"y":2},{"g":7,"l":4,"x":0.947,"y":2}],
"c72":[{"g":1,"l":1,"x":0.632,"y":50},{"g":1,"l":1,"x":0.947,"y":50},{"g":1,"l":1,"x":0.947,"y":23.3},{"g":1,"l":1,"x":0.895,"y":24},{"g":1,"l":1,"x":0.794,"y":23.8},{"g":1,"l":1,"x":0.736,"y":27.3},{"g":1,"l":1,"x":0.693,"y":29.8},{"g":1,"l":1,"x":0.632,"y":32.8},{"g":2,"l":1,"x":0.632,"y":30.5},{"g":2,"l":1,"x":0.655,"y":30.5},{"g":2,"l":1,"x":0.68,"y":28.5},{"g":2,"l":1,"x":0.632,"y":27},{"g":3,"l":2,"x":0.632,"y":50},{"g":3,"l":2,"x":0.947,"y":50},{"g":3,"l":2,"x":0.947,"y":26.3},{"g":3,"l":2,"x":0.895,"y":26.3},{"g":3,"l":2,"x":0.866,"y":27.3},{"g":3,"l":2,"x":0.815,"y":29.3},{"g":3,"l":2,"x":0.765,"y":31.8},{"g":3,"l":2,"x":0.736,"y":37.3},{"g":3,"l":2,"x":0.685,"y":38.3},{"g":3,"l":2,"x":0.632,"y":40},{"g":4,"l":3,"x":0.758,"y":50},{"g":4,"l":3,"x":0.729,"y":46.3},{"g":4,"l":3,"x":0.725,"y":41.8},{"g":4,"l":3,"x":0.743,"y":40.5},{"g":4,"l":3,"x":0.808,"y":40.5},{"g":4,"l":3,"x":0.844,"y":34.3},{"g":4,"l":3,"x":0.873,"y":32.3},{"g":4,"l":3,"x":0.909,"y":29.8},{"g":4,"l":3,"x":0.947,"y":30.3},{"g":4,"l":3,"x":0.947,"y":50},{"g":5,"l":2,"x":0.776,"y":46.3},{"g":5,"l":2,"x":0.797,"y":46.3},{"g":5,"l":2,"x":0.805,"y":44.8},{"g":5,"l":2,"x":0.79,"y":40.5},{"g":5,"l":2,"x":0.82,"y":40.5},{"g":6,"l":4,"x":0.797,"y":50},{"g":6,"l":4,"x":0.815,"y":48.5},{"g":6,"l":4,"x":0.841,"y":49.5},{"g":6,"l":4,"x":0.855,"y":48.3},{"g":6,"l":4,"x":0.88,"y":46},{"g":6,"l":4,"x":0.906,"y":43},{"g":6,"l":4,"x":0.935,"y":45},{"g":6,"l":4,"x":0.947,"y":45},{"g":6,"l":4,"x":0.947,"y":50},{"g":7,"l":4,"x":0.909,"y":38.8},{"g":7,"l":4,"x":0.927,"y":40.5},{"g":7,"l":4,"x":0.947,"y":40.5},{"g":7,"l":4,"x":0.947,"y":33},{"g":7,"l":4,"x":0.909,"y":34.8},{"g":7,"l":4,"x":0.913,"y":36.8}],
"c43":[{"g":1,"l":1,"x":0.047,"y":12.35},{"g":1,"l":1,"x":0.425,"y":12.34},{"g":1,"l":1,"x":0.616,"y":12.33},{"g":1,"l":1,"x":0.823,"y":12.3},{"g":1,"l":1,"x":1,"y":12.25},{"g":1,"l":1,"x":1,"y":11},{"g":1,"l":1,"x":0.966,"y":11},{"g":1,"l":1,"x":0.902,"y":11.08},{"g":1,"l":1,"x":0.823,"y":11.215},{"g":1,"l":1,"x":0.728,"y":11.415},{"g":1,"l":1,"x":0.584,"y":11.5},{"g":1,"l":1,"x":0.394,"y":11.6},{"g":1,"l":1,"x":0.187,"y":11.69},{"g":1,"l":1,"x":0.047,"y":11.78},{"g":2,"l":2,"x":0.155,"y":12},{"g":2,"l":2,"x":0.346,"y":12.1},{"g":2,"l":2,"x":0.584,"y":12.18},{"g":2,"l":2,"x":0.743,"y":12.17},{"g":2,"l":2,"x":1,"y":12.14},{"g":2,"l":2,"x":1,"y":11.115},{"g":2,"l":2,"x":0.918,"y":11.18},{"g":2,"l":2,"x":0.839,"y":11.33},{"g":2,"l":2,"x":0.743,"y":11.465},{"g":2,"l":2,"x":0.584,"y":11.565},{"g":2,"l":2,"x":0.394,"y":11.69},{"g":2,"l":2,"x":0.25,"y":11.83},{"g":2,"l":2,"x":0.155,"y":11.95},{"g":3,"l":3,"x":0.592,"y":11.865},{"g":3,"l":3,"x":0.648,"y":11.95},{"g":3,"l":3,"x":0.775,"y":12.015},{"g":3,"l":3,"x":0.887,"y":12.04},{"g":3,"l":3,"x":1,"y":12.03},{"g":3,"l":3,"x":1,"y":11.265},{"g":3,"l":3,"x":0.887,"y":11.43},{"g":3,"l":3,"x":0.775,"y":11.53},{"g":3,"l":3,"x":0.632,"y":11.64},{"g":3,"l":3,"x":0.592,"y":11.75},{"g":4,"l":4,"x":0.874,"y":11.69},{"g":4,"l":4,"x":0.902,"y":11.765},{"g":4,"l":4,"x":1,"y":11.79},{"g":4,"l":4,"x":1,"y":11.4},{"g":4,"l":4,"x":0.95,"y":11.45},{"g":4,"l":4,"x":0.902,"y":11.55}],
"c53":[{"g":1,"l":1,"x":0.294,"y":60},{"g":1,"l":1,"x":0.284,"y":55},{"g":1,"l":1,"x":0.294,"y":37.25},{"g":1,"l":1,"x":0.361,"y":28.9},{"g":1,"l":1,"x":0.361,"y":26},{"g":1,"l":1,"x":0.236,"y":21.4},{"g":1,"l":1,"x":0.189,"y":16.4},{"g":1,"l":1,"x":0.17,"y":10},{"g":1,"l":1,"x":1,"y":10},{"g":1,"l":1,"x":1,"y":60},{"g":2,"l":2,"x":0.495,"y":60},{"g":2,"l":2,"x":0.543,"y":49.75},{"g":2,"l":2,"x":0.543,"y":41.4},{"g":2,"l":2,"x":0.508,"y":31.4},{"g":2,"l":2,"x":0.508,"y":24.75},{"g":2,"l":2,"x":0.533,"y":17.25},{"g":2,"l":2,"x":0.495,"y":10},{"g":2,"l":2,"x":1,"y":10},{"g":2,"l":2,"x":1,"y":60},{"g":3,"l":3,"x":0.763,"y":60},{"g":3,"l":3,"x":0.792,"y":51.4},{"g":3,"l":3,"x":0.782,"y":41.4},{"g":3,"l":3,"x":0.772,"y":24.75},{"g":3,"l":3,"x":0.792,"y":18},{"g":3,"l":3,"x":0.788,"y":10},{"g":3,"l":3,"x":1,"y":10},{"g":3,"l":3,"x":1,"y":60},{"g":4,"l":4,"x":1,"y":59},{"g":4,"l":4,"x":0.945,"y":55.6},{"g":4,"l":4,"x":0.945,"y":36.4},{"g":4,"l":4,"x":0.954,"y":24.75},{"g":4,"l":4,"x":0.945,"y":16.4},{"g":4,"l":4,"x":0.916,"y":10},{"g":4,"l":4,"x":1,"y":10}],
"c63":[{"g":1,"l":1,"x":0.351,"y":3},{"g":1,"l":1,"x":0.275,"y":2.71},{"g":1,"l":1,"x":0.236,"y":2.51},{"g":1,"l":1,"x":0.179,"y":2.33},{"g":1,"l":1,"x":0.217,"y":2.21},{"g":1,"l":1,"x":0.351,"y":2.08},{"g":1,"l":1,"x":0.354,"y":2},{"g":1,"l":1,"x":1,"y":2},{"g":1,"l":1,"x":1,"y":3},{"g":2,"l":2,"x":0.543,"y":3},{"g":2,"l":2,"x":0.543,"y":2.68},{"g":2,"l":2,"x":0.524,"y":2.53},{"g":2,"l":2,"x":0.466,"y":2.43},{"g":2,"l":2,"x":0.533,"y":2.3},{"g":2,"l":2,"x":0.543,"y":2.08},{"g":2,"l":2,"x":0.484,"y":2},{"g":2,"l":2,"x":1,"y":2},{"g":2,"l":2,"x":1,"y":3},{"g":3,"l":3,"x":0.79,"y":3},{"g":3,"l":3,"x":0.8,"y":2.68},{"g":3,"l":3,"x":0.81,"y":2.51},{"g":3,"l":3,"x":0.772,"y":2.21},{"g":3,"l":3,"x":0.772,"y":2.08},{"g":3,"l":3,"x":0.761,"y":2},{"g":3,"l":3,"x":1,"y":2},{"g":3,"l":3,"x":1,"y":3},{"g":4,"l":4,"x":1,"y":3},{"g":4,"l":4,"x":0.954,"y":2.98},{"g":4,"l":4,"x":0.935,"y":2.71},{"g":4,"l":4,"x":0.983,"y":2.56},{"g":4,"l":4,"x":0.945,"y":2.36},{"g":4,"l":4,"x":0.983,"y":2.21},{"g":4,"l":4,"x":0.964,"y":2.08},{"g":4,"l":4,"x":0.925,"y":2},{"g":4,"l":4,"x":1,"y":2}],
"c73":[{"g":1,"l":1,"x":0.047,"y":50},{"g":1,"l":1,"x":1,"y":50},{"g":1,"l":1,"x":1,"y":20},{"g":1,"l":1,"x":0.717,"y":20},{"g":1,"l":1,"x":0.63,"y":26.8},{"g":1,"l":1,"x":0.41,"y":30.8},{"g":1,"l":1,"x":0.302,"y":31.3},{"g":1,"l":1,"x":0.247,"y":38.3},{"g":1,"l":1,"x":0.126,"y":39.3},{"g":1,"l":1,"x":0.047,"y":40.5},{"g":2,"l":2,"x":0.433,"y":50},{"g":2,"l":2,"x":0.378,"y":44.8},{"g":2,"l":2,"x":0.388,"y":38.8},{"g":2,"l":2,"x":0.616,"y":31.3},{"g":2,"l":2,"x":0.7,"y":20},{"g":2,"l":2,"x":1,"y":20},{"g":2,"l":2,"x":1,"y":50},{"g":3,"l":3,"x":0.717,"y":50},{"g":3,"l":3,"x":0.75,"y":43.8},{"g":3,"l":3,"x":0.717,"y":40.3},{"g":3,"l":3,"x":0.9,"y":20},{"g":3,"l":3,"x":1,"y":20},{"g":3,"l":3,"x":1,"y":50},{"g":4,"l":4,"x":0.89,"y":50},{"g":4,"l":4,"x":1,"y":50},{"g":4,"l":4,"x":1,"y":39},{"g":4,"l":4,"x":0.96,"y":40},{"g":4,"l":4,"x":0.93,"y":43},{"g":5,"l":4,"x":0.955,"y":36},{"g":5,"l":4,"x":1,"y":37},{"g":5,"l":4,"x":1,"y":27},{"g":5,"l":4,"x":0.97,"y":27},{"g":5,"l":4,"x":0.95,"y":32}],
"c54":[{"g":1,"l":1,"x":11.395,"y":60},{"g":1,"l":1,"x":11.41,"y":33.1},{"g":1,"l":1,"x":11.44,"y":10},{"g":1,"l":1,"x":12.44,"y":10},{"g":1,"l":1,"x":12.44,"y":11.4},{"g":1,"l":1,"x":12.36,"y":19.75},{"g":1,"l":1,"x":12.317,"y":37},{"g":1,"l":1,"x":12.317,"y":60},{"g":2,"l":2,"x":11.486,"y":60},{"g":2,"l":2,"x":11.516,"y":33.1},{"g":2,"l":2,"x":11.53,"y":10},{"g":2,"l":2,"x":12.18,"y":10},{"g":2,"l":2,"x":12.15,"y":19.75},{"g":2,"l":2,"x":12.12,"y":50},{"g":2,"l":2,"x":12.105,"y":60},{"g":3,"l":3,"x":11.62,"y":60},{"g":3,"l":3,"x":11.65,"y":33.1},{"g":3,"l":3,"x":11.62,"y":26.4},{"g":3,"l":3,"x":11.607,"y":10},{"g":3,"l":3,"x":12,"y":10},{"g":3,"l":3,"x":11.955,"y":33.1},{"g":3,"l":3,"x":11.94,"y":41.4},{"g":3,"l":3,"x":11.92,"y":60},{"g":4,"l":4,"x":11.71,"y":43.1},{"g":4,"l":4,"x":11.77,"y":45.6},{"g":4,"l":4,"x":11.86,"y":43.9},{"g":4,"l":4,"x":11.83,"y":37.25},{"g":4,"l":4,"x":11.86,"y":33.1},{"g":4,"l":4,"x":11.77,"y":30.6},{"g":4,"l":4,"x":11.73,"y":36.4},{"g":5,"l":4,"x":11.68,"y":10},{"g":5,"l":4,"x":11.73,"y":22.25},{"g":5,"l":4,"x":11.77,"y":23.5},{"g":5,"l":4,"x":11.86,"y":22.25},{"g":5,"l":4,"x":11.89,"y":10}],
"c64":[{"g":1,"l":1,"x":11.58,"y":3},{"g":1,"l":1,"x":11.44,"y":2.485},{"g":1,"l":1,"x":11.28,"y":2.2},{"g":1,"l":1,"x":11.2,"y":2},{"g":1,"l":1,"x":12.07,"y":2},{"g":1,"l":1,"x":12.21,"y":2.32},{"g":1,"l":1,"x":12.33,"y":2.585},{"g":1,"l":1,"x":12.5,"y":2.82},{"g":1,"l":1,"x":12.5,"y":3},{"g":2,"l":2,"x":11.7,"y":3},{"g":2,"l":2,"x":11.56,"y":2.485},{"g":2,"l":2,"x":11.36,"y":2.2},{"g":2,"l":2,"x":11.33,"y":2},{"g":2,"l":2,"x":11.96,"y":2},{"g":2,"l":2,"x":12.04,"y":2.32},{"g":2,"l":2,"x":12.19,"y":2.65},{"g":2,"l":2,"x":12.31,"y":3},{"g":3,"l":3,"x":11.8,"y":3},{"g":3,"l":3,"x":11.68,"y":2.485},{"g":3,"l":3,"x":11.52,"y":2.15},{"g":3,"l":3,"x":11.55,"y":2},{"g":3,"l":3,"x":11.8,"y":2},{"g":3,"l":3,"x":11.84,"y":2.22},{"g":3,"l":3,"x":12,"y":2.6},{"g":3,"l":3,"x":12.17,"y":3},{"g":4,"l":4,"x":11.8,"y":2.535},{"g":4,"l":4,"x":11.85,"y":2.54},{"g":4,"l":4,"x":11.86,"y":2.4},{"g":4,"l":4,"x":11.8,"y":2.335},{"g":4,"l":4,"x":11.7,"y":2.3},{"g":4,"l":4,"x":11.64,"y":2.33},{"g":5,"l":4,"x":11.55,"y":2},{"g":5,"l":4,"x":11.61,"y":2.16},{"g":5,"l":4,"x":11.66,"y":2}],
"c74":[{"g":1,"l":1,"x":11.2,"y":50},{"g":1,"l":1,"x":11.32,"y":43.55},{"g":1,"l":1,"x":11.52,"y":33.55},{"g":1,"l":1,"x":11.8,"y":26},{"g":1,"l":1,"x":12.04,"y":20},{"g":1,"l":1,"x":12.5,"y":20},{"g":1,"l":1,"x":12.5,"y":27.8},{"g":1,"l":1,"x":12.37,"y":28.5},{"g":1,"l":1,"x":12.19,"y":38.5},{"g":1,"l":1,"x":12,"y":50},{"g":2,"l":2,"x":11.3,"y":50},{"g":2,"l":2,"x":11.44,"y":43.55},{"g":2,"l":2,"x":11.68,"y":35},{"g":2,"l":2,"x":11.92,"y":29.5},{"g":2,"l":2,"x":12.21,"y":20},{"g":2,"l":2,"x":12.5,"y":20},{"g":2,"l":2,"x":12.5,"y":22.5},{"g":2,"l":2,"x":12.23,"y":33.5},{"g":2,"l":2,"x":12.08,"y":39.5},{"g":2,"l":2,"x":11.9,"y":50},{"g":3,"l":3,"x":11.4,"y":50},{"g":3,"l":3,"x":11.52,"y":44.55},{"g":3,"l":3,"x":11.7,"y":38},{"g":3,"l":3,"x":11.92,"y":31},{"g":3,"l":3,"x":12.03,"y":30.5},{"g":3,"l":3,"x":12,"y":35.5},{"g":3,"l":3,"x":11.94,"y":41},{"g":3,"l":3,"x":11.86,"y":44},{"g":3,"l":3,"x":11.82,"y":50},{"g":4,"l":4,"x":11.49,"y":50},{"g":4,"l":4,"x":11.58,"y":44.55},{"g":4,"l":4,"x":11.68,"y":40.5},{"g":4,"l":4,"x":11.79,"y":39},{"g":4,"l":4,"x":11.8,"y":41},{"g":4,"l":4,"x":11.76,"y":50}],
"c65":[{"g":1,"l":1,"x":10,"y":2},{"g":1,"l":1,"x":10,"y":3},{"g":1,"l":1,"x":60,"y":3},{"g":1,"l":1,"x":60,"y":2},{"g":2,"l":0,"x":17.3,"y":3},{"g":2,"l":0,"x":57,"y":3},{"g":2,"l":0,"x":53,"y":2.935},{"g":2,"l":0,"x":38.4,"y":2.92},{"g":2,"l":0,"x":26.5,"y":2.885},{"g":2,"l":0,"x":19.9,"y":2.935},{"g":3,"l":0,"x":23.2,"y":2.62},{"g":3,"l":0,"x":25.9,"y":2.63},{"g":3,"l":0,"x":26.5,"y":2.575},{"g":3,"l":0,"x":23.2,"y":2.575},{"g":4,"l":0,"x":39.8,"y":2.51},{"g":4,"l":0,"x":41.4,"y":2.54},{"g":4,"l":0,"x":42.8,"y":2.51},{"g":4,"l":0,"x":41.4,"y":2.485},{"g":5,"l":0,"x":10,"y":2.435},{"g":5,"l":0,"x":14,"y":2.5},{"g":5,"l":0,"x":14.2,"y":2.435},{"g":5,"l":0,"x":11.3,"y":2.37},{"g":6,"l":0,"x":33.2,"y":2.22},{"g":6,"l":0,"x":34.5,"y":2.28},{"g":6,"l":0,"x":35.1,"y":2.22},{"g":7,"l":0,"x":45.1,"y":2.12},{"g":7,"l":0,"x":49,"y":2.22},{"g":7,"l":0,"x":51,"y":2.2},{"g":7,"l":0,"x":47.7,"y":2.12},{"g":8,"l":0,"x":26.5,"y":2},{"g":8,"l":0,"x":28.5,"y":2.08},{"g":8,"l":0,"x":31.8,"y":2.035},{"g":8,"l":0,"x":31.8,"y":2},{"g":9,"l":0,"x":54.3,"y":2.27},{"g":9,"l":0,"x":57.6,"y":2.3},{"g":9,"l":0,"x":60,"y":2.27},{"g":9,"l":0,"x":60,"y":2.22},{"g":9,"l":0,"x":56.3,"y":2.25},{"g":10,"l":2,"x":10,"y":3},{"g":10,"l":2,"x":16.6,"y":3},{"g":10,"l":2,"x":17.3,"y":2.78},{"g":10,"l":2,"x":12,"y":2.72},{"g":10,"l":2,"x":12.6,"y":2.55},{"g":10,"l":2,"x":18.6,"y":2.535},{"g":10,"l":2,"x":31.8,"y":2.485},{"g":10,"l":2,"x":45,"y":2.55},{"g":10,"l":2,"x":50.3,"y":2.6},{"g":10,"l":2,"x":60,"y":2.565},{"g":10,"l":2,"x":60,"y":2.45},{"g":10,"l":2,"x":51,"y":2.43},{"g":10,"l":2,"x":51,"y":2.29},{"g":10,"l":2,"x":45,"y":2.22},{"g":10,"l":2,"x":43.8,"y":2.07},{"g":10,"l":2,"x":38.5,"y":2.22},{"g":10,"l":2,"x":31.8,"y":2.37},{"g":10,"l":2,"x":24,"y":2.32},{"g":10,"l":2,"x":14,"y":2.3},{"g":10,"l":2,"x":14,"y":2.15},{"g":10,"l":2,"x":10,"y":2.2},{"g":11,"l":2,"x":10,"y":2.15},{"g":11,"l":2,"x":20,"y":2.2},{"g":11,"l":2,"x":30,"y":2.15},{"g":11,"l":2,"x":30,"y":2},{"g":11,"l":2,"x":10,"y":2},{"g":12,"l":3,"x":10,"y":3},{"g":12,"l":3,"x":15,"y":3},{"g":12,"l":3,"x":16,"y":2.82},{"g":12,"l":3,"x":10,"y":2.7},{"g":13,"l":3,"x":17,"y":2.5},{"g":13,"l":3,"x":25,"y":2.49},{"g":13,"l":3,"x":30,"y":2.4},{"g":13,"l":3,"x":37,"y":2.46},{"g":13,"l":3,"x":48,"y":2.47},{"g":13,"l":3,"x":51,"y":2.38},{"g":13,"l":3,"x":51,"y":2.25},{"g":13,"l":3,"x":46,"y":2.32},{"g":13,"l":3,"x":38,"y":2.3},{"g":13,"l":3,"x":33,"y":2.33},{"g":13,"l":3,"x":27,"y":2.35},{"g":13,"l":3,"x":19,"y":2.38},{"g":14,"l":3,"x":10,"y":2.3},{"g":14,"l":3,"x":18,"y":2.3},{"g":14,"l":3,"x":28,"y":2.24},{"g":14,"l":3,"x":31,"y":2.15},{"g":14,"l":3,"x":24,"y":2.08},{"g":14,"l":3,"x":16,"y":2.15},{"g":14,"l":3,"x":10,"y":2.17},{"g":15,"l":3,"x":10,"y":2.1},{"g":15,"l":3,"x":16,"y":2.1},{"g":15,"l":3,"x":20,"y":2},{"g":15,"l":3,"x":10,"y":2},{"g":16,"l":3,"x":42,"y":2},{"g":16,"l":3,"x":48,"y":2.1},{"g":16,"l":3,"x":60,"y":2.2},{"g":16,"l":3,"x":60,"y":2},{"g":17,"l":3,"x":20,"y":2.75},{"g":17,"l":3,"x":52,"y":2.75},{"g":17,"l":3,"x":52,"y":2.7},{"g":17,"l":3,"x":40,"y":2.65},{"g":17,"l":3,"x":20,"y":2.68},{"g":18,"l":4,"x":10,"y":3},{"g":18,"l":4,"x":14.6,"y":3},{"g":18,"l":4,"x":14.6,"y":2.77},{"g":18,"l":4,"x":10.6,"y":2.745},{"g":18,"l":4,"x":10,"y":2.745},{"g":19,"l":4,"x":18.3,"y":2.49},{"g":19,"l":4,"x":21.2,"y":2.49},{"g":19,"l":4,"x":25.6,"y":2.47},{"g":19,"l":4,"x":25.2,"y":2.42},{"g":19,"l":4,"x":21.2,"y":2.385},{"g":19,"l":4,"x":18.6,"y":2.42},{"g":20,"l":4,"x":34,"y":2.375},{"g":20,"l":4,"x":36.5,"y":2.4},{"g":20,"l":4,"x":45,"y":2.385},{"g":20,"l":4,"x":46.6,"y":2.32},{"g":20,"l":4,"x":45,"y":2.28},{"g":20,"l":4,"x":41.8,"y":2.3},{"g":20,"l":4,"x":37.1,"y":2.35},{"g":21,"l":4,"x":47.4,"y":2},{"g":21,"l":4,"x":50.4,"y":2.07},{"g":21,"l":4,"x":57,"y":2.135},{"g":21,"l":4,"x":60,"y":2.145},{"g":21,"l":4,"x":60,"y":2}],
"c75":[{"g":1,"l":1,"x":10,"y":50},{"g":1,"l":1,"x":60,"y":50},{"g":1,"l":1,"x":60,"y":26.3},{"g":1,"l":1,"x":51,"y":27.3},{"g":1,"l":1,"x":45,"y":25.3},{"g":1,"l":1,"x":31.8,"y":27.05},{"g":1,"l":1,"x":18.6,"y":27.05},{"g":1,"l":1,"x":10,"y":26.55},{"g":2,"l":2,"x":10,"y":50},{"g":2,"l":2,"x":60,"y":50},{"g":2,"l":2,"x":60,"y":31.5},{"g":2,"l":2,"x":47.7,"y":32},{"g":2,"l":2,"x":37.1,"y":30.8},{"g":2,"l":2,"x":26.5,"y":32},{"g":2,"l":2,"x":18.6,"y":29.8},{"g":2,"l":2,"x":10,"y":30},{"g":3,"l":1,"x":35.8,"y":36.8},{"g":3,"l":1,"x":37.1,"y":37.3},{"g":3,"l":1,"x":39.1,"y":35.8},{"g":3,"l":1,"x":35.8,"y":35.3},{"g":4,"l":3,"x":10,"y":50},{"g":4,"l":3,"x":60,"y":50},{"g":4,"l":3,"x":60,"y":38},{"g":4,"l":3,"x":47.7,"y":39.8},{"g":4,"l":3,"x":39.8,"y":39.3},{"g":4,"l":3,"x":37.1,"y":40.3},{"g":4,"l":3,"x":31.8,"y":39.5},{"g":4,"l":3,"x":25.9,"y":35.8},{"g":4,"l":3,"x":26.5,"y":40.3},{"g":4,"l":3,"x":10,"y":40.3},{"g":5,"l":2,"x":26.5,"y":42},{"g":5,"l":2,"x":30.5,"y":44},{"g":5,"l":2,"x":31.8,"y":41},{"g":5,"l":2,"x":26.5,"y":40.8},{"g":6,"l":2,"x":41.8,"y":45},{"g":6,"l":2,"x":43.7,"y":47},{"g":6,"l":2,"x":46.4,"y":45},{"g":6,"l":2,"x":45,"y":44.5},{"g":7,"l":2,"x":47,"y":45.3},{"g":7,"l":2,"x":53.7,"y":45.3},{"g":7,"l":2,"x":51,"y":42.8},{"g":7,"l":2,"x":47.7,"y":43},{"g":8,"l":4,"x":10,"y":50},{"g":8,"l":4,"x":25.9,"y":50},{"g":8,"l":4,"x":19.3,"y":46.5},{"g":8,"l":4,"x":15.3,"y":43},{"g":8,"l":4,"x":10,"y":42.5},{"g":9,"l":4,"x":34.7,"y":50},{"g":9,"l":4,"x":38.4,"y":50},{"g":9,"l":4,"x":37.1,"y":46.3},{"g":9,"l":4,"x":35.8,"y":48},{"g":10,"l":4,"x":40.4,"y":42},{"g":10,"l":4,"x":43.7,"y":42.3},{"g":10,"l":4,"x":45.7,"y":40.8},{"g":10,"l":4,"x":42.4,"y":39.2},{"g":10,"l":4,"x":39.8,"y":40},{"g":11,"l":4,"x":55.6,"y":42.5},{"g":11,"l":4,"x":58.3,"y":45.5},{"g":11,"l":4,"x":60,"y":45.3},{"g":11,"l":4,"x":60,"y":40.7},{"g":11,"l":4,"x":56.3,"y":40.8},{"g":12,"l":4,"x":48.4,"y":50},{"g":12,"l":4,"x":52.3,"y":50},{"g":12,"l":4,"x":50.4,"y":48}],
"c76":[{"g":1,"l":1,"x":2,"y":50},{"g":1,"l":1,"x":3,"y":50},{"g":1,"l":1,"x":3,"y":28},{"g":1,"l":1,"x":2.84,"y":28.5},{"g":1,"l":1,"x":2.735,"y":26},{"g":1,"l":1,"x":2.44,"y":27},{"g":1,"l":1,"x":2.1,"y":26.5},{"g":1,"l":1,"x":2,"y":23.8},{"g":2,"l":2,"x":2,"y":50},{"g":2,"l":2,"x":3,"y":50},{"g":2,"l":2,"x":3,"y":35.5},{"g":2,"l":2,"x":2.87,"y":34.5},{"g":2,"l":2,"x":2.71,"y":30.5},{"g":2,"l":2,"x":2.58,"y":31.3},{"g":2,"l":2,"x":2.44,"y":32},{"g":2,"l":2,"x":2.18,"y":32.5},{"g":2,"l":2,"x":2,"y":30},{"g":3,"l":3,"x":2,"y":50},{"g":3,"l":3,"x":3,"y":50},{"g":3,"l":3,"x":3,"y":40},{"g":3,"l":3,"x":2.79,"y":40.5},{"g":3,"l":3,"x":2.75,"y":35.5},{"g":3,"l":3,"x":2.6,"y":40.5},{"g":3,"l":3,"x":2.44,"y":40},{"g":3,"l":3,"x":2.365,"y":35},{"g":3,"l":3,"x":2.3,"y":40.5},{"g":3,"l":3,"x":2,"y":40.5},{"g":4,"l":2,"x":2.17,"y":42},{"g":4,"l":2,"x":2.26,"y":45.5},{"g":4,"l":2,"x":2.31,"y":44.5},{"g":4,"l":2,"x":2.3,"y":41},{"g":5,"l":2,"x":2.42,"y":42.5},{"g":5,"l":2,"x":2.58,"y":44.3},{"g":5,"l":2,"x":2.6,"y":41},{"g":5,"l":2,"x":2.44,"y":40.5},{"g":6,"l":4,"x":2.35,"y":50},{"g":6,"l":4,"x":2.58,"y":50},{"g":6,"l":4,"x":2.55,"y":47.5},{"g":6,"l":4,"x":2.48,"y":46.2},{"g":6,"l":4,"x":2.39,"y":47.5},{"g":7,"l":4,"x":2.72,"y":50},{"g":7,"l":4,"x":3,"y":50},{"g":7,"l":4,"x":3,"y":45},{"g":7,"l":4,"x":2.84,"y":43.5},{"g":7,"l":4,"x":2.79,"y":44},{"g":7,"l":4,"x":2.74,"y":49},{"g":8,"l":4,"x":2.67,"y":42.5},{"g":8,"l":4,"x":2.775,"y":43.5},{"g":8,"l":4,"x":2.79,"y":41},{"g":8,"l":4,"x":2.71,"y":40.8},{"g":9,"l":4,"x":2.95,"y":40.5},{"g":9,"l":4,"x":3,"y":41.3},{"g":9,"l":4,"x":3,"y":40.3}],
"samples":[{"a":0.0212,"b":0.0222},{"a":0.0245,"b":0.0262},{"a":0.0268,"b":0.0265},{"a":0.0285,"b":0.0295},{"a":0.0295,"b":0.0297},{"a":0.0305,"b":0.0315},{"a":0.0318,"b":0.0335},{"a":0.0325,"b":0.0348},{"a":0.033,"b":0.035},{"a":0.0335,"b":0.0352},{"a":0.034,"b":0.0355},{"a":0.0345,"b":0.0358},{"a":0.035,"b":0.036},{"a":0.0355,"b":0.0365},{"a":0.036,"b":0.037},{"a":0.0368,"b":0.0375},{"a":0.0375,"b":0.0385},{"a":0.038,"b":0.039},{"a":0.0388,"b":0.04},{"a":0.0395,"b":0.041},{"a":0.04,"b":0.0415},{"a":0.0405,"b":0.042},{"a":0.041,"b":0.0425},{"a":0.0418,"b":0.0435},{"a":0.0425,"b":0.044},{"a":0.043,"b":0.0438},{"a":0.0435,"b":0.045},{"a":0.044,"b":0.0455},{"a":0.0445,"b":0.046},{"a":0.045,"b":0.0462},{"a":0.0458,"b":0.047},{"a":0.0465,"b":0.048},{"a":0.047,"b":0.0485},{"a":0.0475,"b":0.049},{"a":0.048,"b":0.0495},{"a":0.0488,"b":0.05},{"a":0.0495,"b":0.0505},{"a":0.05,"b":0.051},{"a":0.0505,"b":0.052},{"a":0.051,"b":0.0525},{"a":0.0515,"b":0.053},{"a":0.052,"b":0.0535},{"a":0.0525,"b":0.054},{"a":0.053,"b":0.0545},{"a":0.0535,"b":0.055},{"a":0.054,"b":0.0555},{"a":0.0548,"b":0.0562},{"a":0.0555,"b":0.057},{"a":0.056,"b":0.0575},{"a":0.0565,"b":0.058},{"a":0.057,"b":0.0585},{"a":0.0578,"b":0.059},{"a":0.0585,"b":0.06},{"a":0.059,"b":0.0605},{"a":0.0595,"b":0.061},{"a":0.06,"b":0.0615},{"a":0.0605,"b":0.0622},{"a":0.061,"b":0.0628},{"a":0.0618,"b":0.0635},{"a":0.0625,"b":0.064},{"a":0.063,"b":0.0645},{"a":0.0638,"b":0.0655},{"a":0.0645,"b":0.066},{"a":0.0655,"b":0.067},{"a":0.0665,"b":0.068},{"a":0.068,"b":0.0695},{"a":0.07,"b":0.0715},{"a":0.072,"b":0.0735},{"a":0.073,"b":0.0762},{"a":0.074,"b":0.075},{"a":0.0715,"b":0.072},{"a":0.0412,"b":0.0428},{"a":0.0432,"b":0.0442},{"a":0.0448,"b":0.0458},{"a":0.0462,"b":0.0475},{"a":0.0472,"b":0.0482},{"a":0.0482,"b":0.049},{"a":0.0492,"b":0.0502},{"a":0.0502,"b":0.0508},{"a":0.0512,"b":0.0518},{"a":0.0522,"b":0.0528},{"a":0.0532,"b":0.054},{"a":0.0542,"b":0.055},{"a":0.0552,"b":0.056},{"a":0.0398,"b":0.0402},{"a":0.0378,"b":0.0392}]
},
"columns":7,"spacing":10,"bounds":"flush",
"concat":[
{"width":200,"height":200,"layer":[{"data":{"values":[{"x":3,"c":0.832},{"x":3.15,"c":0.823},{"x":3.3,"c":0.832},{"x":3.45,"c":0.865},{"x":3.6,"c":0.832},{"x":3.75,"c":0.815},{"x":3.9,"c":0.852},{"x":4.05,"c":0.84},{"x":4.2,"c":0.882},{"x":4.35,"c":0.877},{"x":4.5,"c":0.852},{"x":4.65,"c":0.832},{"x":4.8,"c":0.877},{"x":4.95,"c":0.832},{"x":5.1,"c":0.907},{"x":5.25,"c":0.865},{"x":5.4,"c":0.862},{"x":5.55,"c":0.838},{"x":5.7,"c":0.792},{"x":5.85,"c":0.815},{"x":6,"c":0.815}]},"mark":{"type":"area","interpolate":"step-after","fill":"#5a00e8","fillOpacity":0.3},"encoding":{"x":{"field":"x","type":"quantitative","scale":{"domain":[3,6],"nice":false},"axis":{"title":null,"values":[3.6,4.2,4.8,5.4]}},"y":{"field":"c","type":"quantitative","scale":{"domain":[0,1]},"axis":{"title":null,"values":[0,0.37,0.745]}}}},{"data":{"values":[{"x":3.37,"x2":3.71},{"x":3.97,"x2":5.6}]},"layer":[{"mark":{"type":"rect","fill":"#5a00e8","opacity":0.2},"encoding":{"x":{"field":"x","type":"quantitative"},"x2":{"field":"x2"},"y":{"value":0},"y2":{"value":200}}},{"mark":{"type":"rule","stroke":"#808080","strokeDash":[4,3],"strokeWidth":1.4},"encoding":{"x":{"field":"x","type":"quantitative"}}},{"mark":{"type":"rule","stroke":"#808080","strokeDash":[4,3],"strokeWidth":1.4},"encoding":{"x":{"field":"x2","type":"quantitative"}}}]},{"data":{"values":[{"x":3.53},{"x":4.78}]},"mark":"rule","encoding":{"x":{"field":"x","type":"quantitative"}}}]},
{"width":200,"height":200,"view":{"stroke":null},"data":{"values":[{"x":-1,"t":"-1"},{"x":0,"t":"0"},{"x":1,"t":"1"}]},"layer":[{"mark":{"type":"text","dy":19,"fontSize":21,"baseline":"middle","align":"center"},"encoding":{"x":{"field":"x","type":"quantitative","scale":{"domain":[-1,1],"nice":false,"range":[5.5,406]},"axis":{"title":null,"values":[-1,0,1],"offset":-168,"domain":false}},"y":{"datum":0,"scale":{"domain":[0,1],"range":[31.8,0]},"axis":null},"text":{"field":"t"}}},{"mark":{"type":"rect","stroke":"#000","strokeWidth":1.2,"fill":{"x1":0,"y1":0,"x2":1,"y2":0,"gradient":"linear","stops":[{"offset":0,"color":"#67001f"},{"offset":0.1,"color":"#b2182b"},{"offset":0.2,"color":"#d6604d"},{"offset":0.3,"color":"#f4a582"},{"offset":0.4,"color":"#fddbc7"},{"offset":0.5,"color":"#f7f7f7"},{"offset":0.6,"color":"#d1e5f0"},{"offset":0.7,"color":"#92c5de"},{"offset":0.8,"color":"#4393c3"},{"offset":0.9,"color":"#2166ac"},{"offset":1,"color":"#053061"}]}},"encoding":{"x":{"datum":-1},"x2":{"datum":1},"y":{"datum":0},"y2":{"datum":1}}},{"data":{"values":[{}]},"mark":{"type":"text","text":"Spearman coef.","fontSize":23.5,"dy":46,"align":"center","baseline":"middle"},"encoding":{"x":{"datum":0},"y":{"datum":0}}}]},
{"width":200,"height":200,"view":{"stroke":null},"data":{"values":[]},"mark":"text","encoding":{}},
{"width":200,"height":200,"view":{"stroke":null},"layer":[{"data":{"name":"samples"},"mark":{"type":"rule","stroke":"#666","opacity":0.16,"strokeWidth":1.5},"encoding":{"x":{"datum":0.436,"scale":{"domain":[0.34,0.9],"nice":false,"range":[85.5,805.5]},"axis":null},"x2":{"datum":0.88},"y":{"field":"a","type":"quantitative","scale":{"domain":[0.0187,0.0806],"nice":false,"range":[247.8,7.8]},"axis":{"title":null,"values":[0.02,0.04,0.06,0.08],"format":".2f","labels":true,"labelAngle":0,"labelAlign":"right","labelPadding":3,"offset":-85.5,"domain":false}},"y2":{"field":"b"}}},{"data":{"values":[{"x":0.436,"y":0.0538,"l":0.032,"h":0.0752},{"x":0.548,"y":0.0546,"l":0.0316,"h":0.0778},{"x":0.635,"y":0.0556,"l":0.0394,"h":0.072},{"x":0.88,"y":0.0494,"l":0.0339,"h":0.0649}]},"layer":[{"mark":{"type":"rule","stroke":"#333","strokeWidth":1,"opacity":0.9},"encoding":{"x":{"field":"x","type":"quantitative"},"y":{"field":"l","type":"quantitative"},"y2":{"field":"h"}}},{"mark":{"type":"circle","size":70,"fill":"#333","stroke":"#333","opacity":0.75},"encoding":{"x":{"field":"x","type":"quantitative"},"y":{"field":"y","type":"quantitative"}}}]},{"data":{"values":[{}]},"mark":{"type":"rect","fill":"transparent","stroke":"#000","strokeWidth":1.4},"encoding":{"x":{"datum":0.34},"x2":{"datum":0.9},"y":{"datum":0.0187},"y2":{"datum":0.0806}}},{"data":{"values":[{}]},"layer":[{"mark":{"type":"text","text":"P","fontSize":20,"fontStyle":"italic","angle":270,"dx":-14,"dy":-73},"encoding":{"x":{"datum":0.34},"y":{"datum":0.05}}},{"mark":{"type":"text","text":"%","fontSize":14,"angle":270,"dx":-2,"dy":-68},"encoding":{"x":{"datum":0.34},"y":{"datum":0.05}}}]}]},
{"width":200,"height":200,"view":{"stroke":null},"data":{"values":[]},"mark":"text","encoding":{}},
{"width":200,"height":200,"view":{"stroke":null},"data":{"values":[]},"mark":"text","encoding":{}},
{"width":200,"height":200,"view":{"stroke":null},"data":{"values":[]},"mark":"text","encoding":{}},
{"data":{"values":[{}]},"encoding":{"x":{"field":"x","type":"quantitative","scale":{"domain":[3,6]},"axis":{"title":null,"values":[3.6,4.2,4.8,5.4]}},"y":{"field":"y","type":"quantitative","scale":{"domain":[0.632,0.947]},"axis":{"title":null,"values":[0.64,0.72,0.8,0.88],"labels":true,"format":".2f","labelPadding":30}}},"layer":[{"data":{"name":"c21"},"mark":{"type":"line","stroke":"#cdb6f9","strokeWidth":1.3,"clip":true},"encoding":{"detail":{"field":"g"},"fill":{"field":"l","type":"ordinal","scale":{"domain":[0,1,2,3,4]}},"order":{"value":null}}},{"data":{"values":[{"x":3.53,"y":0.845},{"x":4.78,"y":0.845}]},"layer":[{"mark":"rule","encoding":{"y":{"value":0},"y2":{"value":200}}},{"mark":"rule","encoding":{"x":{"value":0},"x2":{"value":200}}},{"mark":"square"}]},{"data":{"values":[{"x":3.93,"x2":5.835,"y":0.9297,"y2":0.8454,"cx":4.5,"tx":4.87,"cy":0.8887,"r":0,"t":"0.00"}]},"layer":[{"mark":{"type":"rect","fill":"#fff","fillOpacity":0.8,"stroke":"#ccc","cornerRadius":5},"encoding":{"x2":{"field":"x2"},"y2":{"field":"y2"}}},{"mark":"circle","encoding":{"x":{"field":"cx","type":"quantitative"},"y":{"field":"cy","type":"quantitative"},"fill":{"field":"r","type":"quantitative","scale":{"domain":[-1,1],"scheme":"redblue"}}}},{"mark":{"type":"text","baseline":"middle","fontSize":21},"encoding":{"x":{"field":"tx","type":"quantitative"},"y":{"field":"cy","type":"quantitative"},"text":{"field":"t"}}}]},{"mark":{"type":"text","text":"W","fontStyle":"italic","angle":270,"dx":-13,"dy":-70.5},"encoding":{"x":{"value":0},"y":{"value":100}}}]},
{"width":200,"height":200,"layer":[{"data":{"values":[{"x":0.632,"c":0.612},{"x":0.648,"c":0.635},{"x":0.664,"c":0.635},{"x":0.679,"c":0.652},{"x":0.695,"c":0.7},{"x":0.711,"c":0.655},{"x":0.727,"c":0.695},{"x":0.742,"c":0.722},{"x":0.758,"c":0.752},{"x":0.774,"c":0.757},{"x":0.79,"c":0.742},{"x":0.805,"c":0.785},{"x":0.821,"c":0.782},{"x":0.837,"c":0.782},{"x":0.853,"c":0.847},{"x":0.868,"c":0.837},{"x":0.884,"c":0.827},{"x":0.9,"c":0.907},{"x":0.916,"c":0.877},{"x":0.931,"c":0.882},{"x":0.947,"c":0.882}]},"mark":{"type":"area","interpolate":"step-after","fill":"#5a00e8","fillOpacity":0.3},"encoding":{"x":{"field":"x","type":"quantitative","scale":{"domain":[0.632,0.947],"nice":false},"axis":{"title":null,"values":[0.64,0.72,0.8,0.88]}},"y":{"field":"c","type":"quantitative","scale":{"domain":[0,1]},"axis":{"title":null,"values":[0.33,0.667,0.997]}}}},{"data":{"values":[{"x":0.7395,"x2":0.935}]},"layer":[{"mark":{"type":"rect","fill":"#5a00e8","opacity":0.2},"encoding":{"x":{"field":"x","type":"quantitative"},"x2":{"field":"x2"},"y":{"value":0},"y2":{"value":200}}},{"mark":{"type":"rule","stroke":"#808080","strokeDash":[4,3],"strokeWidth":1.4},"encoding":{"x":{"field":"x","type":"quantitative"}}},{"mark":{"type":"rule","stroke":"#808080","strokeDash":[4,3],"strokeWidth":1.4},"encoding":{"x":{"field":"x2","type":"quantitative"}}}]},{"data":{"values":[{"x":0.845}]},"mark":"rule","encoding":{"x":{"field":"x","type":"quantitative"}}}]},
{"width":200,"height":200,"view":{"stroke":null},"data":{"values":[]},"mark":"text","encoding":{}},
{"width":200,"height":200,"view":{"stroke":null},"layer":[{"data":{"values":[{"x":0.436,"y":1.64,"y2":-1.07},{"x":0.436,"y":1.45,"y2":-0.95},{"x":0.436,"y":1.3,"y2":-0.85},{"x":0.436,"y":1.15,"y2":-0.75},{"x":0.436,"y":1.06,"y2":-0.67},{"x":0.436,"y":0.95,"y2":-0.6},{"x":0.548,"y":1.57,"y2":-1},{"x":0.548,"y":1.4,"y2":-0.85},{"x":0.548,"y":1.25,"y2":-0.7},{"x":0.548,"y":1.1,"y2":-0.6},{"x":0.548,"y":1,"y2":-0.53},{"x":0.548,"y":0.9,"y2":-0.45},{"x":0.635,"y":2.2,"y2":-1.3},{"x":0.635,"y":1.95,"y2":-1.15},{"x":0.635,"y":1.75,"y2":-1},{"x":0.635,"y":1.55,"y2":-0.9},{"x":0.635,"y":1.46,"y2":-0.8},{"x":0.635,"y":1.3,"y2":-0.7},{"x":0.88,"y":1.9,"y2":-1.87},{"x":0.88,"y":1.65,"y2":-1.75},{"x":0.88,"y":1.4,"y2":-1.6},{"x":0.88,"y":1.2,"y2":-1.47},{"x":0.88,"y":1.06,"y2":-1.35},{"x":0.88,"y":0.95,"y2":-1.2}]},"mark":{"type":"rule","stroke":"#000","opacity":0.4,"strokeWidth":9.5},"encoding":{"x":{"field":"x","type":"quantitative","scale":{"domain":[0.34,0.9],"nice":false,"range":[85.5,805.5]},"axis":null},"y":{"field":"y","type":"quantitative","scale":{"domain":[-1.94,2.25],"nice":false,"range":[166.2,61.5]},"axis":{"title":null,"values":[0,2],"format":"d","labels":true,"labelAngle":0,"labelAlign":"right","labelPadding":3,"offset":-85.5,"domain":false}},"y2":{"field":"y2"}}},{"data":{"values":[{"x":0.4,"t":"0.4"},{"x":0.5,"t":"0.5"},{"x":0.6,"t":"0.6"},{"x":0.7,"t":"0.7"},{"x":0.8,"t":"0.8"},{"x":0.9,"t":"0.9"}]},"layer":[{"mark":{"type":"rule","strokeWidth":1},"encoding":{"x":{"field":"x","type":"quantitative"},"y":{"datum":-1.94},"y2":{"datum":-2.14}}},{"mark":{"type":"text","fontSize":20,"align":"center","baseline":"middle","dy":18},"encoding":{"x":{"field":"x","type":"quantitative"},"y":{"datum":-1.94},"text":{"field":"t"}}}]},{"data":{"values":[{}]},"layer":[{"mark":{"type":"rule","strokeDash":[4,4],"strokeWidth":1.2},"encoding":{"x":{"datum":0.34},"x2":{"datum":0.9},"y":{"datum":0}}},{"mark":{"type":"rect","fill":"transparent","stroke":"#000","strokeWidth":1.4},"encoding":{"x":{"datum":0.34},"x2":{"datum":0.9},"y":{"datum":-1.94},"y2":{"datum":2.25}}},{"mark":{"type":"text","text":"λ","fontSize":22,"fontStyle":"italic","dx":-9.5,"dy":55},"encoding":{"x":{"datum":0.6},"y":{"datum":-1.94}}},{"mark":{"type":"text","text":"[μm]","fontSize":22,"dx":8,"dy":55},"encoding":{"x":{"datum":0.6},"y":{"datum":-1.94}}},{"mark":{"type":"text","text":"(P − P","fontSize":22,"fontStyle":"italic","angle":270,"dx":-50,"dy":-41},"encoding":{"x":{"datum":0.34},"y":{"datum":0}}},{"mark":{"type":"text","text":"m","fontSize":15.5,"angle":270,"dx":12,"dy":-36},"encoding":{"x":{"datum":0.34},"y":{"datum":0}}},{"mark":{"type":"text","text":")/σ","fontSize":22,"fontStyle":"italic","angle":270,"dx":27,"dy":-41},"encoding":{"x":{"datum":0.34},"y":{"datum":0}}}]}]},
{"width":200,"height":200,"view":{"stroke":null},"data":{"values":[]},"mark":"text","encoding":{}},
{"width":200,"height":200,"view":{"stroke":null},"data":{"values":[]},"mark":"text","encoding":{}},
{"width":200,"height":200,"view":{"stroke":null},"data":{"values":[]},"mark":"text","encoding":{}},
{"data":{"values":[{}]},"encoding":{"x":{"field":"x","type":"quantitative","scale":{"domain":[3,6]},"axis":{"title":null,"values":[3.6,4.2,4.8,5.4]}},"y":{"field":"y","type":"quantitative","scale":{"domain":[0.047,1]},"axis":{"title":null,"values":[0.2,0.4,0.6,0.8,1],"labels":true,"format":".1f","labelPadding":26}}},"layer":[{"data":{"name":"c31"},"mark":{"type":"line","stroke":"#cdb6f9","strokeWidth":1.3,"clip":true},"encoding":{"detail":{"field":"g"},"fill":{"field":"l","type":"ordinal","scale":{"domain":[0,1,2,3,4]}},"order":{"value":null}}},{"data":{"values":[{"x":3.53,"y":0.827},{"x":4.78,"y":0.827}]},"layer":[{"mark":"rule","encoding":{"y":{"value":0},"y2":{"value":200}}},{"mark":"rule","encoding":{"x":{"value":0},"x2":{"value":200}}},{"mark":"square"}]},{"data":{"values":[{"x":3.81,"x2":5.835,"y":0.357,"y2":0.0994,"cx":4.365,"tx":4.74,"cy":0.228,"r":-0.02,"t":"-0.02"}]},"layer":[{"mark":{"type":"rect","fill":"#fff","fillOpacity":0.8,"stroke":"#ccc","cornerRadius":5},"encoding":{"x2":{"field":"x2"},"y2":{"field":"y2"}}},{"mark":"circle","encoding":{"x":{"field":"cx","type":"quantitative"},"y":{"field":"cy","type":"quantitative"},"fill":{"field":"r","type":"quantitative","scale":{"domain":[-1,1],"scheme":"redblue"}}}},{"mark":{"type":"text","baseline":"middle","fontSize":21},"encoding":{"x":{"field":"tx","type":"quantitative"},"y":{"field":"cy","type":"quantitative"},"text":{"field":"t"}}}]},{"mark":{"type":"text","text":"t/t","fontStyle":"italic","angle":270,"dx":-27,"dy":-70.5},"encoding":{"x":{"value":0},"y":{"value":100}}},{"mark":{"type":"text","text":"MS","fontSize":18.5,"angle":270,"dx":3,"dy":-65},"encoding":{"x":{"value":0},"y":{"value":100}}}]},
{"encoding":{"x":{"field":"x","type":"quantitative","scale":{"domain":[0.632,0.947]},"axis":{"title":null,"values":[0.64,0.72,0.8,0.88]}},"y":{"field":"y","type":"quantitative","scale":{"domain":[0.047,1]},"axis":{"title":null,"values":[0.2,0.4,0.6,0.8,1]}}},"layer":[{"data":{"name":"c32"},"mark":{"type":"line","stroke":"#cdb6f9","strokeWidth":1.3,"clip":true},"encoding":{"detail":{"field":"g"},"fill":{"field":"l","type":"ordinal","scale":{"domain":[0,1,2,3,4]}},"order":{"value":null}}},{"data":{"values":[{"x":0.845,"y":0.827}]},"layer":[{"mark":"rule","encoding":{"y":{"value":0},"y2":{"value":200}}},{"mark":"rule","encoding":{"x":{"value":0},"x2":{"value":200}}},{"mark":"square"}]},{"data":{"values":[{"x":0.649,"x2":0.862,"y":0.357,"y2":0.0994,"cx":0.708,"tx":0.748,"cy":0.228,"r":-0.01,"t":"-0.01"}]},"layer":[{"mark":{"type":"rect","fill":"#fff","fillOpacity":0.8,"stroke":"#ccc","cornerRadius":5},"encoding":{"x2":{"field":"x2"},"y2":{"field":"y2"}}},{"mark":"circle","encoding":{"x":{"field":"cx","type":"quantitative"},"y":{"field":"cy","type":"quantitative"},"fill":{"field":"r","type":"quantitative","scale":{"domain":[-1,1],"scheme":"redblue"}}}},{"mark":{"type":"text","baseline":"middle","fontSize":21},"encoding":{"x":{"field":"tx","type":"quantitative"},"y":{"field":"cy","type":"quantitative"},"text":{"field":"t"}}}]}]},
{"width":200,"height":200,"layer":[{"data":{"values":[{"x":0.047,"c":0.207},{"x":0.095,"c":0.21},{"x":0.142,"c":0.235},{"x":0.19,"c":0.232},{"x":0.238,"c":0.232},{"x":0.285,"c":0.265},{"x":0.333,"c":0.265},{"x":0.381,"c":0.29},{"x":0.428,"c":0.282},{"x":0.476,"c":0.322},{"x":0.524,"c":0.33},{"x":0.571,"c":0.36},{"x":0.619,"c":0.39},{"x":0.666,"c":0.43},{"x":0.714,"c":0.45},{"x":0.762,"c":0.487},{"x":0.809,"c":0.557},{"x":0.857,"c":0.672},{"x":0.905,"c":0.735},{"x":0.952,"c":0.907},{"x":1,"c":0.907}]},"mark":{"type":"area","interpolate":"step-after","fill":"#5a00e8","fillOpacity":0.3},"encoding":{"x":{"field":"x","type":"quantitative","scale":{"domain":[0.047,1],"nice":false},"axis":{"title":null,"values":[0.2,0.4,0.6,0.8,1]}},"y":{"field":"c","type":"quantitative","scale":{"domain":[0,1]},"axis":{"title":null,"values":[0,0.35,0.697]}}}},{"data":{"values":[{"x":0.506,"x2":1}]},"layer":[{"mark":{"type":"rect","fill":"#5a00e8","opacity":0.2},"encoding":{"x":{"field":"x","type":"quantitative"},"x2":{"field":"x2"},"y":{"value":0},"y2":{"value":200}}},{"mark":{"type":"rule","stroke":"#808080","strokeDash":[4,3],"strokeWidth":1.4},"encoding":{"x":{"field":"x","type":"quantitative"}}}]},{"data":{"values":[{"x":0.827}]},"mark":"rule","encoding":{"x":{"field":"x","type":"quantitative"}}}]},
{"width":200,"height":200,"view":{"stroke":null},"data":{"values":[]},"mark":"text","encoding":{}},
{"width":200,"height":200,"view":{"stroke":null},"data":{"values":[]},"mark":"text","encoding":{}},
{"width":200,"height":200,"view":{"stroke":null},"data":{"values":[]},"mark":"text","encoding":{}},
{"width":200,"height":200,"view":{"stroke":null},"data":{"values":[]},"mark":"text","encoding":{}},
{"data":{"values":[{}]},"encoding":{"x":{"field":"x","type":"quantitative","scale":{"domain":[3,6]},"axis":{"title":null,"values":[3.6,4.2,4.8,5.4]}},"y":{"field":"y","type":"quantitative","scale":{"domain":[11,12.5]},"axis":{"title":null,"values":[11.1,11.4,11.7,12,12.3],"labels":true,"format":".1f","labelPadding":30}}},"layer":[{"data":{"name":"c41"},"mark":{"type":"line","stroke":"#cdb6f9","strokeWidth":1.3,"clip":true},"encoding":{"detail":{"field":"g"},"fill":{"field":"l","type":"ordinal","scale":{"domain":[0,1,2,3,4]}},"order":{"value":null}}},{"data":{"values":[{"x":3.53,"y":11.82},{"x":4.78,"y":11.82}]},"layer":[{"mark":"rule","encoding":{"y":{"value":0},"y2":{"value":200}}},{"mark":"rule","encoding":{"x":{"value":0},"x2":{"value":200}}},{"mark":"square"}]},{"data":{"values":[{"x":3.81,"x2":5.835,"y":12.4175,"y2":12.016,"cx":4.365,"tx":4.74,"cy":12.2225,"r":-0.18,"t":"-0.18"}]},"layer":[{"mark":{"type":"rect","fill":"#fff","fillOpacity":0.8,"stroke":"#ccc","cornerRadius":5},"encoding":{"x2":{"field":"x2"},"y2":{"field":"y2"}}},{"mark":"circle","encoding":{"x":{"field":"cx","type":"quantitative"},"y":{"field":"cy","type":"quantitative"},"fill":{"field":"r","type":"quantitative","scale":{"domain":[-1,1],"scheme":"redblue"}}}},{"mark":{"type":"text","baseline":"middle","fontSize":21},"encoding":{"x":{"field":"tx","type":"quantitative"},"y":{"field":"cy","type":"quantitative"},"text":{"field":"t"}}}]},{"mark":{"type":"text","text":"log","angle":270,"dx":-85,"dy":-70.5},"encoding":{"x":{"value":0},"y":{"value":100}}},{"mark":{"type":"text","text":"n","fontStyle":"italic","angle":270,"dx":-36,"dy":-70.5},"encoding":{"x":{"value":0},"y":{"value":100}}},{"mark":{"type":"text","text":"0","fontSize":18.5,"angle":270,"dx":-19,"dy":-65},"encoding":{"x":{"value":0},"y":{"value":100}}},{"mark":{"type":"text","text":"[cm","angle":270,"dx":-1,"dy":-70.5},"encoding":{"x":{"value":0},"y":{"value":100}}},{"mark":{"type":"text","text":"−3","fontSize":18.5,"angle":270,"dx":50,"dy":-80.5},"encoding":{"x":{"value":0},"y":{"value":100}}},{"mark":{"type":"text","text":"]","angle":270,"dx":77,"dy":-70.5},"encoding":{"x":{"value":0},"y":{"value":100}}}]},
{"encoding":{"x":{"field":"x","type":"quantitative","scale":{"domain":[0.632,0.947]},"axis":{"title":null,"values":[0.64,0.72,0.8,0.88]}},"y":{"field":"y","type":"quantitative","scale":{"domain":[11,12.5]},"axis":{"title":null,"values":[11.1,11.4,11.7,12,12.3]}}},"layer":[{"data":{"name":"c42"},"mark":{"type":"line","stroke":"#cdb6f9","strokeWidth":1.3,"clip":true},"encoding":{"detail":{"field":"g"},"fill":{"field":"l","type":"ordinal","scale":{"domain":[0,1,2,3,4]}},"order":{"value":null}}},{"data":{"values":[{"x":0.845,"y":11.82}]},"layer":[{"mark":"rule","encoding":{"y":{"value":0},"y2":{"value":200}}},{"mark":"rule","encoding":{"x":{"value":0},"x2":{"value":200}}},{"mark":"square"}]},{"data":{"values":[{"x":0.7297,"x2":0.9297,"y":12.4175,"y2":12.016,"cx":0.7895,"tx":0.828,"cy":12.2225,"r":0.03,"t":"0.03"}]},"layer":[{"mark":{"type":"rect","fill":"#fff","fillOpacity":0.8,"stroke":"#ccc","cornerRadius":5},"encoding":{"x2":{"field":"x2"},"y2":{"field":"y2"}}},{"mark":"circle","encoding":{"x":{"field":"cx","type":"quantitative"},"y":{"field":"cy","type":"quantitative"},"fill":{"field":"r","type":"quantitative","scale":{"domain":[-1,1],"scheme":"redblue"}}}},{"mark":{"type":"text","baseline":"middle","fontSize":21},"encoding":{"x":{"field":"tx","type":"quantitative"},"y":{"field":"cy","type":"quantitative"},"text":{"field":"t"}}}]}]},
{"encoding":{"x":{"field":"x","type":"quantitative","scale":{"domain":[0.047,1]},"axis":{"title":null,"values":[0.2,0.4,0.6,0.8,1]}},"y":{"field":"y","type":"quantitative","scale":{"domain":[11,12.5]},"axis":{"title":null,"values":[11.1,11.4,11.7,12,12.3]}}},"layer":[{"data":{"name":"c43"},"mark":{"type":"line","stroke":"#cdb6f9","strokeWidth":1.3,"clip":true},"encoding":{"detail":{"field":"g"},"fill":{"field":"l","type":"ordinal","scale":{"domain":[0,1,2,3,4]}},"order":{"value":null}}},{"data":{"values":[{"x":0.827,"y":11.82}]},"layer":[{"mark":"rule","encoding":{"y":{"value":0},"y2":{"value":200}}},{"mark":"rule","encoding":{"x":{"value":0},"x2":{"value":200}}},{"mark":"square"}]},{"data":{"values":[{"x":0.099,"x2":0.743,"y":12.4175,"y2":12.016,"cx":0.278,"tx":0.397,"cy":12.2225,"r":-0.42,"t":"-0.42"}]},"layer":[{"mark":{"type":"rect","fill":"#fff","fillOpacity":0.8,"stroke":"#ccc","cornerRadius":5},"encoding":{"x2":{"field":"x2"},"y2":{"field":"y2"}}},{"mark":"circle","encoding":{"x":{"field":"cx","type":"quantitative"},"y":{"field":"cy","type":"quantitative"},"fill":{"field":"r","type":"quantitative","scale":{"domain":[-1,1],"scheme":"redblue"}}}},{"mark":{"type":"text","baseline":"middle","fontSize":21},"encoding":{"x":{"field":"tx","type":"quantitative"},"y":{"field":"cy","type":"quantitative"},"text":{"field":"t"}}}]}]},
{"width":200,"height":200,"layer":[{"data":{"values":[{"x":11,"c":0},{"x":11.075,"c":0.01},{"x":11.15,"c":0.072},{"x":11.225,"c":0.14},{"x":11.3,"c":0.222},{"x":11.375,"c":0.282},{"x":11.45,"c":0.442},{"x":11.525,"c":0.667},{"x":11.6,"c":0.835},{"x":11.675,"c":0.885},{"x":11.75,"c":0.907},{"x":11.825,"c":0.852},{"x":11.9,"c":0.825},{"x":11.975,"c":0.747},{"x":12.05,"c":0.615},{"x":12.125,"c":0.525},{"x":12.2,"c":0.442},{"x":12.275,"c":0.355},{"x":12.35,"c":0.252},{"x":12.425,"c":0.22},{"x":12.5,"c":0.22}]},"mark":{"type":"area","interpolate":"step-after","fill":"#5a00e8","fillOpacity":0.3},"encoding":{"x":{"field":"x","type":"quantitative","scale":{"domain":[11,12.5],"nice":false},"axis":{"title":null,"values":[11.1,11.4,11.7,12,12.3]}},"y":{"field":"c","type":"quantitative","scale":{"domain":[0,1]},"axis":{"title":null,"values":[0,0.41,0.825]}}}},{"data":{"values":[{"x":11.53,"x2":12.134}]},"layer":[{"mark":{"type":"rect","fill":"#5a00e8","opacity":0.2},"encoding":{"x":{"field":"x","type":"quantitative"},"x2":{"field":"x2"},"y":{"value":0},"y2":{"value":200}}},{"mark":{"type":"rule","stroke":"#808080","strokeDash":[4,3],"strokeWidth":1.4},"encoding":{"x":{"field":"x","type":"quantitative"}}},{"mark":{"type":"rule","stroke":"#808080","strokeDash":[4,3],"strokeWidth":1.4},"encoding":{"x":{"field":"x2","type":"quantitative"}}}]},{"data":{"values":[{"x":11.82}]},"mark":"rule","encoding":{"x":{"field":"x","type":"quantitative"}}}]},
{"width":200,"height":200,"view":{"stroke":null},"data":{"values":[]},"mark":"text","encoding":{}},
{"width":200,"height":200,"view":{"stroke":null},"data":{"values":[]},"mark":"text","encoding":{}},
{"width":200,"height":200,"view":{"stroke":null},"data":{"values":[]},"mark":"text","encoding":{}},
{"data":{"values":[{}]},"encoding":{"x":{"field":"x","type":"quantitative","scale":{"domain":[3,6]},"axis":{"title":null,"values":[3.6,4.2,4.8,5.4]}},"y":{"field":"y","type":"quantitative","scale":{"domain":[10,60]},"axis":{"title":null,"values":[20,30,40,50],"labels":true,"format":"d","labelPadding":24}}},"layer":[{"data":{"name":"c51"},"mark":{"type":"line","stroke":"#cdb6f9","strokeWidth":1.3,"clip":true},"encoding":{"detail":{"field":"g"},"fill":{"field":"l","type":"ordinal","scale":{"domain":[0,1,2,3,4]}},"order":{"value":null}}},{"data":{"values":[{"x":3.53,"y":19.6},{"x":3.53,"y":32.7},{"x":3.53,"y":47.4},{"x":4.78,"y":19.6},{"x":4.78,"y":32.7},{"x":4.78,"y":47.4}]},"layer":[{"mark":"rule","encoding":{"y":{"value":0},"y2":{"value":200}}},{"mark":"rule","encoding":{"x":{"value":0},"x2":{"value":200}}},{"mark":"square"}]},{"data":{"values":[{"x":3.93,"x2":5.835,"y":57.25,"y2":43.875,"cx":4.5,"tx":4.87,"cy":50.75,"r":0.02,"t":"0.02"}]},"layer":[{"mark":{"type":"rect","fill":"#fff","fillOpacity":0.8,"stroke":"#ccc","cornerRadius":5},"encoding":{"x2":{"field":"x2"},"y2":{"field":"y2"}}},{"mark":"circle","encoding":{"x":{"field":"cx","type":"quantitative"},"y":{"field":"cy","type":"quantitative"},"fill":{"field":"r","type":"quantitative","scale":{"domain":[-1,1],"scheme":"redblue"}}}},{"mark":{"type":"text","baseline":"middle","fontSize":21},"encoding":{"x":{"field":"tx","type":"quantitative"},"y":{"field":"cy","type":"quantitative"},"text":{"field":"t"}}}]},{"mark":{"type":"text","text":"R","fontStyle":"italic","angle":270,"dx":-50,"dy":-70.5},"encoding":{"x":{"value":0},"y":{"value":100}}},{"mark":{"type":"text","text":"D","fontSize":18.5,"angle":270,"dx":-31.6,"dy":-65},"encoding":{"x":{"value":0},"y":{"value":100}}},{"mark":{"type":"text","text":"[","angle":270,"dx":-12,"dy":-70.5},"encoding":{"x":{"value":0},"y":{"value":100}}},{"mark":{"type":"text","text":"R","fontStyle":"italic","angle":270,"dx":-2,"dy":-70.5},"encoding":{"x":{"value":0},"y":{"value":100}}},{"mark":{"type":"text","text":"eq","fontSize":18.5,"angle":270,"dx":16.4,"dy":-65},"encoding":{"x":{"value":0},"y":{"value":100}}},{"mark":{"type":"text","text":"]","angle":270,"dx":40,"dy":-70.5},"encoding":{"x":{"value":0},"y":{"value":100}}}]},
{"encoding":{"x":{"field":"x","type":"quantitative","scale":{"domain":[0.632,0.947]},"axis":{"title":null,"values":[0.64,0.72,0.8,0.88]}},"y":{"field":"y","type":"quantitative","scale":{"domain":[10,60]},"axis":{"title":null,"values":[20,30,40,50]}}},"layer":[{"data":{"name":"c52"},"mark":{"type":"line","stroke":"#cdb6f9","strokeWidth":1.3,"clip":true},"encoding":{"detail":{"field":"g"},"fill":{"field":"l","type":"ordinal","scale":{"domain":[0,1,2,3,4]}},"order":{"value":null}}},{"data":{"values":[{"x":0.845,"y":19.6},{"x":0.845,"y":32.7},{"x":0.845,"y":47.4}]},"layer":[{"mark":"rule","encoding":{"y":{"value":0},"y2":{"value":200}}},{"mark":"rule","encoding":{"x":{"value":0},"x2":{"value":200}}},{"mark":"square"}]},{"data":{"values":[{"x":0.7297,"x2":0.9297,"y":57.25,"y2":43.875,"cx":0.7895,"tx":0.828,"cy":50.75,"r":0.02,"t":"0.02"}]},"layer":[{"mark":{"type":"rect","fill":"#fff","fillOpacity":0.8,"stroke":"#ccc","cornerRadius":5},"encoding":{"x2":{"field":"x2"},"y2":{"field":"y2"}}},{"mark":"circle","encoding":{"x":{"field":"cx","type":"quantitative"},"y":{"field":"cy","type":"quantitative"},"fill":{"field":"r","type":"quantitative","scale":{"domain":[-1,1],"scheme":"redblue"}}}},{"mark":{"type":"text","baseline":"middle","fontSize":21},"encoding":{"x":{"field":"tx","type":"quantitative"},"y":{"field":"cy","type":"quantitative"},"text":{"field":"t"}}}]}]},
{"encoding":{"x":{"field":"x","type":"quantitative","scale":{"domain":[0.047,1]},"axis":{"title":null,"values":[0.2,0.4,0.6,0.8,1]}},"y":{"field":"y","type":"quantitative","scale":{"domain":[10,60]},"axis":{"title":null,"values":[20,30,40,50]}}},"layer":[{"data":{"name":"c53"},"mark":{"type":"line","stroke":"#cdb6f9","strokeWidth":1.3,"clip":true},"encoding":{"detail":{"field":"g"},"fill":{"field":"l","type":"ordinal","scale":{"domain":[0,1,2,3,4]}},"order":{"value":null}}},{"data":{"values":[{"x":0.827,"y":19.6},{"x":0.827,"y":32.7},{"x":0.827,"y":47.4}]},"layer":[{"mark":"rule","encoding":{"y":{"value":0},"y2":{"value":200}}},{"mark":"rule","encoding":{"x":{"value":0},"x2":{"value":200}}},{"mark":"square"}]},{"data":{"values":[{"x":0.099,"x2":0.743,"y":57.25,"y2":43.875,"cx":0.278,"tx":0.397,"cy":50.75,"r":-0.001,"t":"-0.00"}]},"layer":[{"mark":{"type":"rect","fill":"#fff","fillOpacity":0.8,"stroke":"#ccc","cornerRadius":5},"encoding":{"x2":{"field":"x2"},"y2":{"field":"y2"}}},{"mark":"circle","encoding":{"x":{"field":"cx","type":"quantitative"},"y":{"field":"cy","type":"quantitative"},"fill":{"field":"r","type":"quantitative","scale":{"domain":[-1,1],"scheme":"redblue"}}}},{"mark":{"type":"text","baseline":"middle","fontSize":21},"encoding":{"x":{"field":"tx","type":"quantitative"},"y":{"field":"cy","type":"quantitative"},"text":{"field":"t"}}}]}]},
{"encoding":{"x":{"field":"x","type":"quantitative","scale":{"domain":[11,12.5]},"axis":{"title":null,"values":[11.1,11.4,11.7,12,12.3]}},"y":{"field":"y","type":"quantitative","scale":{"domain":[10,60]},"axis":{"title":null,"values":[20,30,40,50]}}},"layer":[{"data":{"name":"c54"},"mark":{"type":"line","stroke":"#cdb6f9","strokeWidth":1.3,"clip":true},"encoding":{"detail":{"field":"g"},"fill":{"field":"l","type":"ordinal","scale":{"domain":[0,1,2,3,4]}},"order":{"value":null}}},{"data":{"values":[{"x":11.82,"y":19.6},{"x":11.82,"y":32.7},{"x":11.82,"y":47.4}]},"layer":[{"mark":"rule","encoding":{"y":{"value":0},"y2":{"value":200}}},{"mark":"rule","encoding":{"x":{"value":0},"x2":{"value":200}}},{"mark":"square"}]},{"data":{"values":[{"x":11.405,"x2":12.418,"y":57.25,"y2":43.875,"cx":11.683,"tx":11.87,"cy":50.75,"r":-0.04,"t":"-0.04"}]},"layer":[{"mark":{"type":"rect","fill":"#fff","fillOpacity":0.8,"stroke":"#ccc","cornerRadius":5},"encoding":{"x2":{"field":"x2"},"y2":{"field":"y2"}}},{"mark":"circle","encoding":{"x":{"field":"cx","type":"quantitative"},"y":{"field":"cy","type":"quantitative"},"fill":{"field":"r","type":"quantitative","scale":{"domain":[-1,1],"scheme":"redblue"}}}},{"mark":{"type":"text","baseline":"middle","fontSize":21},"encoding":{"x":{"field":"tx","type":"quantitative"},"y":{"field":"cy","type":"quantitative"},"text":{"field":"t"}}}]}]},
{"width":200,"height":200,"layer":[{"data":{"values":[{"x":10,"c":0.908},{"x":12.5,"c":0.882},{"x":15,"c":0.815},{"x":17.5,"c":0.903},{"x":20,"c":0.862},{"x":22.5,"c":0.853},{"x":25,"c":0.837},{"x":27.5,"c":0.832},{"x":30,"c":0.853},{"x":32.5,"c":0.865},{"x":35,"c":0.837},{"x":37.5,"c":0.837},{"x":40,"c":0.892},{"x":42.5,"c":0.873},{"x":45,"c":0.845},{"x":47.5,"c":0.842},{"x":50,"c":0.878},{"x":52.5,"c":0.832},{"x":55,"c":0.87},{"x":57.5,"c":0.86},{"x":60,"c":0.86}]},"mark":{"type":"area","interpolate":"step-after","fill":"#5a00e8","fillOpacity":0.3},"encoding":{"x":{"field":"x","type":"quantitative","scale":{"domain":[10,60],"nice":false},"axis":{"title":null,"values":[20,30,40,50]}},"y":{"field":"c","type":"quantitative","scale":{"domain":[0,1]},"axis":{"title":null,"values":[0,0.382,0.758]}}}},{"data":{"values":[{"x":13.7,"x2":25.2},{"x":30.05,"x2":35},{"x":39.3,"x2":55.75}]},"layer":[{"mark":{"type":"rect","fill":"#5a00e8","opacity":0.2},"encoding":{"x":{"field":"x","type":"quantitative"},"x2":{"field":"x2"},"y":{"value":0},"y2":{"value":200}}},{"mark":{"type":"rule","stroke":"#808080","strokeDash":[4,3],"strokeWidth":1.4},"encoding":{"x":{"field":"x","type":"quantitative"}}},{"mark":{"type":"rule","stroke":"#808080","strokeDash":[4,3],"strokeWidth":1.4},"encoding":{"x":{"field":"x2","type":"quantitative"}}}]},{"data":{"values":[{"x":19.6},{"x":32.7},{"x":47.4}]},"mark":"rule","encoding":{"x":{"field":"x","type":"quantitative"}}}]},
{"width":200,"height":200,"view":{"stroke":null},"data":{"values":[]},"mark":"text","encoding":{}},
{"width":200,"height":200,"view":{"stroke":null},"data":{"values":[]},"mark":"text","encoding":{}},
{"data":{"values":[{}]},"encoding":{"x":{"field":"x","type":"quantitative","scale":{"domain":[3,6]},"axis":{"title":null,"values":[3.6,4.2,4.8,5.4]}},"y":{"field":"y","type":"quantitative","scale":{"domain":[2,3]},"axis":{"title":null,"values":[2.2,2.4,2.6,2.8],"labels":true,"format":".1f","labelPadding":26}}},"layer":[{"data":{"name":"c61"},"mark":{"type":"line","stroke":"#cdb6f9","strokeWidth":1.3,"clip":true},"encoding":{"detail":{"field":"g"},"fill":{"field":"l","type":"ordinal","scale":{"domain":[0,1,2,3,4]}},"order":{"value":null}}},{"data":{"values":[{"x":3.53,"y":2.31},{"x":3.53,"y":2.63},{"x":3.53,"y":2.8},{"x":4.78,"y":2.31},{"x":4.78,"y":2.63},{"x":4.78,"y":2.8}]},"layer":[{"mark":"rule","encoding":{"y":{"value":0},"y2":{"value":200}}},{"mark":"rule","encoding":{"x":{"value":0},"x2":{"value":200}}},{"mark":"square"}]},{"data":{"values":[{"x":3.93,"x2":5.835,"y":2.945,"y2":2.6775,"cx":4.5,"tx":4.87,"cy":2.815,"r":0.01,"t":"0.01"}]},"layer":[{"mark":{"type":"rect","fill":"#fff","fillOpacity":0.8,"stroke":"#ccc","cornerRadius":5},"encoding":{"x2":{"field":"x2"},"y2":{"field":"y2"}}},{"mark":"circle","encoding":{"x":{"field":"cx","type":"quantitative"},"y":{"field":"cy","type":"quantitative"},"fill":{"field":"r","type":"quantitative","scale":{"domain":[-1,1],"scheme":"redblue"}}}},{"mark":{"type":"text","baseline":"middle","fontSize":21},"encoding":{"x":{"field":"tx","type":"quantitative"},"y":{"field":"cy","type":"quantitative"},"text":{"field":"t"}}}]},{"mark":{"type":"text","text":"n","fontStyle":"italic","angle":270,"dx":-8.4,"dy":-70.5},"encoding":{"x":{"value":0},"y":{"value":100}}}]},
{"encoding":{"x":{"field":"x","type":"quantitative","scale":{"domain":[0.632,0.947]},"axis":{"title":null,"values":[0.64,0.72,0.8,0.88]}},"y":{"field":"y","type":"quantitative","scale":{"domain":[2,3]},"axis":{"title":null,"values":[2.2,2.4,2.6,2.8]}}},"layer":[{"data":{"name":"c62"},"mark":{"type":"line","stroke":"#cdb6f9","strokeWidth":1.3,"clip":true},"encoding":{"detail":{"field":"g"},"fill":{"field":"l","type":"ordinal","scale":{"domain":[0,1,2,3,4]}},"order":{"value":null}}},{"data":{"values":[{"x":0.845,"y":2.31},{"x":0.845,"y":2.63},{"x":0.845,"y":2.8}]},"layer":[{"mark":"rule","encoding":{"y":{"value":0},"y2":{"value":200}}},{"mark":"rule","encoding":{"x":{"value":0},"x2":{"value":200}}},{"mark":"square"}]},{"data":{"values":[{"x":0.717,"x2":0.9297,"y":2.945,"y2":2.6775,"cx":0.775,"tx":0.815,"cy":2.815,"r":-0.02,"t":"-0.02"}]},"layer":[{"mark":{"type":"rect","fill":"#fff","fillOpacity":0.8,"stroke":"#ccc","cornerRadius":5},"encoding":{"x2":{"field":"x2"},"y2":{"field":"y2"}}},{"mark":"circle","encoding":{"x":{"field":"cx","type":"quantitative"},"y":{"field":"cy","type":"quantitative"},"fill":{"field":"r","type":"quantitative","scale":{"domain":[-1,1],"scheme":"redblue"}}}},{"mark":{"type":"text","baseline":"middle","fontSize":21},"encoding":{"x":{"field":"tx","type":"quantitative"},"y":{"field":"cy","type":"quantitative"},"text":{"field":"t"}}}]}]},
{"encoding":{"x":{"field":"x","type":"quantitative","scale":{"domain":[0.047,1]},"axis":{"title":null,"values":[0.2,0.4,0.6,0.8,1]}},"y":{"field":"y","type":"quantitative","scale":{"domain":[2,3]},"axis":{"title":null,"values":[2.2,2.4,2.6,2.8]}}},"layer":[{"data":{"name":"c63"},"mark":{"type":"line","stroke":"#cdb6f9","strokeWidth":1.3,"clip":true},"encoding":{"detail":{"field":"g"},"fill":{"field":"l","type":"ordinal","scale":{"domain":[0,1,2,3,4]}},"order":{"value":null}}},{"data":{"values":[{"x":0.827,"y":2.31},{"x":0.827,"y":2.63},{"x":0.827,"y":2.8}]},"layer":[{"mark":"rule","encoding":{"y":{"value":0},"y2":{"value":200}}},{"mark":"rule","encoding":{"x":{"value":0},"x2":{"value":200}}},{"mark":"square"}]},{"data":{"values":[{"x":0.099,"x2":0.705,"y":2.945,"y2":2.6775,"cx":0.28,"tx":0.4,"cy":2.815,"r":0.01,"t":"0.01"}]},"layer":[{"mark":{"type":"rect","fill":"#fff","fillOpacity":0.8,"stroke":"#ccc","cornerRadius":5},"encoding":{"x2":{"field":"x2"},"y2":{"field":"y2"}}},{"mark":"circle","encoding":{"x":{"field":"cx","type":"quantitative"},"y":{"field":"cy","type":"quantitative"},"fill":{"field":"r","type":"quantitative","scale":{"domain":[-1,1],"scheme":"redblue"}}}},{"mark":{"type":"text","baseline":"middle","fontSize":21},"encoding":{"x":{"field":"tx","type":"quantitative"},"y":{"field":"cy","type":"quantitative"},"text":{"field":"t"}}}]}]},
{"encoding":{"x":{"field":"x","type":"quantitative","scale":{"domain":[11,12.5]},"axis":{"title":null,"values":[11.1,11.4,11.7,12,12.3]}},"y":{"field":"y","type":"quantitative","scale":{"domain":[2,3]},"axis":{"title":null,"values":[2.2,2.4,2.6,2.8]}}},"layer":[{"data":{"name":"c64"},"mark":{"type":"line","stroke":"#cdb6f9","strokeWidth":1.3,"clip":true},"encoding":{"detail":{"field":"g"},"fill":{"field":"l","type":"ordinal","scale":{"domain":[0,1,2,3,4]}},"order":{"value":null}}},{"data":{"values":[{"x":11.82,"y":2.31},{"x":11.82,"y":2.63},{"x":11.82,"y":2.8}]},"layer":[{"mark":"rule","encoding":{"y":{"value":0},"y2":{"value":200}}},{"mark":"rule","encoding":{"x":{"value":0},"x2":{"value":200}}},{"mark":"square"}]},{"data":{"values":[{"x":11.465,"x2":12.418,"y":2.945,"y2":2.6775,"cx":11.75,"tx":11.934,"cy":2.815,"r":0.35,"t":"0.35"}]},"layer":[{"mark":{"type":"rect","fill":"#fff","fillOpacity":0.8,"stroke":"#ccc","cornerRadius":5},"encoding":{"x2":{"field":"x2"},"y2":{"field":"y2"}}},{"mark":"circle","encoding":{"x":{"field":"cx","type":"quantitative"},"y":{"field":"cy","type":"quantitative"},"fill":{"field":"r","type":"quantitative","scale":{"domain":[-1,1],"scheme":"redblue"}}}},{"mark":{"type":"text","baseline":"middle","fontSize":21},"encoding":{"x":{"field":"tx","type":"quantitative"},"y":{"field":"cy","type":"quantitative"},"text":{"field":"t"}}}]}]},
{"encoding":{"x":{"field":"x","type":"quantitative","scale":{"domain":[10,60]},"axis":{"title":null,"values":[20,30,40,50]}},"y":{"field":"y","type":"quantitative","scale":{"domain":[2,3]},"axis":{"title":null,"values":[2.2,2.4,2.6,2.8]}}},"layer":[{"data":{"name":"c65"},"mark":{"type":"line","stroke":"#cdb6f9","strokeWidth":1.3,"clip":true},"encoding":{"detail":{"field":"g"},"fill":{"field":"l","type":"ordinal","scale":{"domain":[0,1,2,3,4]}},"order":{"value":null}}},{"data":{"values":[{"x":19.6,"y":2.31},{"x":19.6,"y":2.63},{"x":19.6,"y":2.8},{"x":32.7,"y":2.31},{"x":32.7,"y":2.63},{"x":32.7,"y":2.8},{"x":47.4,"y":2.31},{"x":47.4,"y":2.63},{"x":47.4,"y":2.8}]},"layer":[{"mark":"rule","encoding":{"y":{"value":0},"y2":{"value":200}}},{"mark":"rule","encoding":{"x":{"value":0},"x2":{"value":200}}},{"mark":"square"}]},{"data":{"values":[{"x":23.5,"x2":57.25,"y":2.945,"y2":2.6775,"cx":32.75,"tx":39,"cy":2.815,"r":-0.01,"t":"-0.01"}]},"layer":[{"mark":{"type":"rect","fill":"#fff","fillOpacity":0.8,"stroke":"#ccc","cornerRadius":5},"encoding":{"x2":{"field":"x2"},"y2":{"field":"y2"}}},{"mark":"circle","encoding":{"x":{"field":"cx","type":"quantitative"},"y":{"field":"cy","type":"quantitative"},"fill":{"field":"r","type":"quantitative","scale":{"domain":[-1,1],"scheme":"redblue"}}}},{"mark":{"type":"text","baseline":"middle","fontSize":21},"encoding":{"x":{"field":"tx","type":"quantitative"},"y":{"field":"cy","type":"quantitative"},"text":{"field":"t"}}}]}]},
{"width":200,"height":200,"layer":[{"data":{"values":[{"x":2,"c":0.86},{"x":2.05,"c":0.86},{"x":2.1,"c":0.838},{"x":2.15,"c":0.838},{"x":2.2,"c":0.855},{"x":2.25,"c":0.815},{"x":2.3,"c":0.818},{"x":2.35,"c":0.86},{"x":2.4,"c":0.907},{"x":2.45,"c":0.865},{"x":2.5,"c":0.832},{"x":2.55,"c":0.86},{"x":2.6,"c":0.81},{"x":2.65,"c":0.813},{"x":2.7,"c":0.852},{"x":2.75,"c":0.868},{"x":2.8,"c":0.827},{"x":2.85,"c":0.832},{"x":2.9,"c":0.86},{"x":2.95,"c":0.777},{"x":3,"c":0.777}]},"mark":{"type":"area","interpolate":"step-after","fill":"#5a00e8","fillOpacity":0.3},"encoding":{"x":{"field":"x","type":"quantitative","scale":{"domain":[2,3],"nice":false},"axis":{"title":null,"values":[2.2,2.4,2.6,2.8]}},"y":{"field":"c","type":"quantitative","scale":{"domain":[0,1]},"axis":{"title":null,"values":[0,0.372,0.747]}}}},{"data":{"values":[{"x":2.079,"x2":2.52},{"x":2.608,"x2":2.64},{"x":2.693,"x2":2.9}]},"layer":[{"mark":{"type":"rect","fill":"#5a00e8","opacity":0.2},"encoding":{"x":{"field":"x","type":"quantitative"},"x2":{"field":"x2"},"y":{"value":0},"y2":{"value":200}}},{"mark":{"type":"rule","stroke":"#808080","strokeDash":[4,3],"strokeWidth":1.4},"encoding":{"x":{"field":"x","type":"quantitative"}}},{"mark":{"type":"rule","stroke":"#808080","strokeDash":[4,3],"strokeWidth":1.4},"encoding":{"x":{"field":"x2","type":"quantitative"}}}]},{"data":{"values":[{"x":2.31},{"x":2.63},{"x":2.8}]},"mark":"rule","encoding":{"x":{"field":"x","type":"quantitative"}}}]},
{"width":200,"height":200,"view":{"stroke":null},"data":{"values":[]},"mark":"text","encoding":{}},
{"data":{"values":[{}]},"encoding":{"x":{"field":"x","type":"quantitative","scale":{"domain":[3,6]},"axis":{"title":null,"values":[3.6,4.2,4.8,5.4],"labels":true,"format":".1f","labelPadding":23.5}},"y":{"field":"y","type":"quantitative","scale":{"domain":[20,50]},"axis":{"title":null,"values":[24,30,36,42,48],"labels":true,"format":"d","labelPadding":23.5}}},"layer":[{"data":{"name":"c71"},"mark":{"type":"line","stroke":"#cdb6f9","strokeWidth":1.3,"clip":true},"encoding":{"detail":{"field":"g"},"fill":{"field":"l","type":"ordinal","scale":{"domain":[0,1,2,3,4]}},"order":{"value":null}}},{"data":{"values":[{"x":3.53,"y":40.5},{"x":4.78,"y":40.5}]},"layer":[{"mark":"rule","encoding":{"y":{"value":0},"y2":{"value":200}}},{"mark":"rule","encoding":{"x":{"value":0},"x2":{"value":200}}},{"mark":"square"}]},{"data":{"values":[{"x":3.81,"x2":5.835,"y":29.75,"y2":21.65,"cx":4.365,"tx":4.74,"cy":25.7,"r":-0.04,"t":"-0.04"}]},"layer":[{"mark":{"type":"rect","fill":"#fff","fillOpacity":0.8,"stroke":"#ccc","cornerRadius":5},"encoding":{"x2":{"field":"x2"},"y2":{"field":"y2"}}},{"mark":"circle","encoding":{"x":{"field":"cx","type":"quantitative"},"y":{"field":"cy","type":"quantitative"},"fill":{"field":"r","type":"quantitative","scale":{"domain":[-1,1],"scheme":"redblue"}}}},{"mark":{"type":"text","baseline":"middle","fontSize":21},"encoding":{"x":{"field":"tx","type":"quantitative"},"y":{"field":"cy","type":"quantitative"},"text":{"field":"t"}}}]},{"mark":{"type":"text","text":"i","fontStyle":"italic","angle":270,"dx":-18,"dy":-70.5},"encoding":{"x":{"value":0},"y":{"value":100}}},{"mark":{"type":"text","text":"[°]","angle":270,"dx":-11,"dy":-70.5},"encoding":{"x":{"value":0},"y":{"value":100}}},{"mark":{"type":"text","text":"M","fontStyle":"italic","dx":-42,"dy":85.5},"encoding":{"x":{"value":100},"y":{"value":200}}},{"mark":{"type":"text","text":"[M","dx":-14,"dy":85.5},"encoding":{"x":{"value":100},"y":{"value":200}}},{"mark":{"type":"text","text":"⊙","fontSize":18.5,"dx":19,"dy":91},"encoding":{"x":{"value":100},"y":{"value":200}}},{"mark":{"type":"text","text":"]","dx":35,"dy":85.5},"encoding":{"x":{"value":100},"y":{"value":200}}}]},
{"data":{"values":[{}]},"encoding":{"x":{"field":"x","type":"quantitative","scale":{"domain":[0.632,0.947]},"axis":{"title":null,"values":[0.64,0.72,0.8,0.88],"labels":true,"format":".2f","labelPadding":28.5}},"y":{"field":"y","type":"quantitative","scale":{"domain":[20,50]},"axis":{"title":null,"values":[24,30,36,42,48]}}},"layer":[{"data":{"name":"c72"},"mark":{"type":"line","stroke":"#cdb6f9","strokeWidth":1.3,"clip":true},"encoding":{"detail":{"field":"g"},"fill":{"field":"l","type":"ordinal","scale":{"domain":[0,1,2,3,4]}},"order":{"value":null}}},{"data":{"values":[{"x":0.845,"y":40.5}]},"layer":[{"mark":"rule","encoding":{"y":{"value":0},"y2":{"value":200}}},{"mark":"rule","encoding":{"x":{"value":0},"x2":{"value":200}}},{"mark":"square"}]},{"data":{"values":[{"x":0.649,"x2":0.862,"y":29.75,"y2":21.65,"cx":0.708,"tx":0.748,"cy":25.7,"r":-0.01,"t":"-0.01"}]},"layer":[{"mark":{"type":"rect","fill":"#fff","fillOpacity":0.8,"stroke":"#ccc","cornerRadius":5},"encoding":{"x2":{"field":"x2"},"y2":{"field":"y2"}}},{"mark":"circle","encoding":{"x":{"field":"cx","type":"quantitative"},"y":{"field":"cy","type":"quantitative"},"fill":{"field":"r","type":"quantitative","scale":{"domain":[-1,1],"scheme":"redblue"}}}},{"mark":{"type":"text","baseline":"middle","fontSize":21},"encoding":{"x":{"field":"tx","type":"quantitative"},"y":{"field":"cy","type":"quantitative"},"text":{"field":"t"}}}]},{"mark":{"type":"text","text":"W","fontStyle":"italic","dx":-13,"dy":85.5},"encoding":{"x":{"value":100},"y":{"value":200}}}]},
{"data":{"values":[{}]},"encoding":{"x":{"field":"x","type":"quantitative","scale":{"domain":[0.047,1]},"axis":{"title":null,"values":[0.2,0.4,0.6,0.8,1],"labels":true,"format":".1f","labelPadding":23.5}},"y":{"field":"y","type":"quantitative","scale":{"domain":[20,50]},"axis":{"title":null,"values":[24,30,36,42,48]}}},"layer":[{"data":{"name":"c73"},"mark":{"type":"line","stroke":"#cdb6f9","strokeWidth":1.3,"clip":true},"encoding":{"detail":{"field":"g"},"fill":{"field":"l","type":"ordinal","scale":{"domain":[0,1,2,3,4]}},"order":{"value":null}}},{"data":{"values":[{"x":0.827,"y":40.5}]},"layer":[{"mark":"rule","encoding":{"y":{"value":0},"y2":{"value":200}}},{"mark":"rule","encoding":{"x":{"value":0},"x2":{"value":200}}},{"mark":"square"}]},{"data":{"values":[{"x":0.099,"x2":0.743,"y":29.75,"y2":21.65,"cx":0.278,"tx":0.397,"cy":25.7,"r":-0.07,"t":"-0.07"}]},"layer":[{"mark":{"type":"rect","fill":"#fff","fillOpacity":0.8,"stroke":"#ccc","cornerRadius":5},"encoding":{"x2":{"field":"x2"},"y2":{"field":"y2"}}},{"mark":"circle","encoding":{"x":{"field":"cx","type":"quantitative"},"y":{"field":"cy","type":"quantitative"},"fill":{"field":"r","type":"quantitative","scale":{"domain":[-1,1],"scheme":"redblue"}}}},{"mark":{"type":"text","baseline":"middle","fontSize":21},"encoding":{"x":{"field":"tx","type":"quantitative"},"y":{"field":"cy","type":"quantitative"},"text":{"field":"t"}}}]},{"mark":{"type":"text","text":"t/t","fontStyle":"italic","dx":-28,"dy":85.5},"encoding":{"x":{"value":100},"y":{"value":200}}},{"mark":{"type":"text","text":"MS","fontSize":18.5,"dx":2,"dy":91},"encoding":{"x":{"value":100},"y":{"value":200}}}]},
{"data":{"values":[{}]},"encoding":{"x":{"field":"x","type":"quantitative","scale":{"domain":[11,12.5]},"axis":{"title":null,"values":[11.1,11.4,11.7,12,12.3],"labels":true,"format":".1f","labelPadding":28.5}},"y":{"field":"y","type":"quantitative","scale":{"domain":[20,50]},"axis":{"title":null,"values":[24,30,36,42,48]}}},"layer":[{"data":{"name":"c74"},"mark":{"type":"line","stroke":"#cdb6f9","strokeWidth":1.3,"clip":true},"encoding":{"detail":{"field":"g"},"fill":{"field":"l","type":"ordinal","scale":{"domain":[0,1,2,3,4]}},"order":{"value":null}}},{"data":{"values":[{"x":11.82,"y":40.5}]},"layer":[{"mark":"rule","encoding":{"y":{"value":0},"y2":{"value":200}}},{"mark":"rule","encoding":{"x":{"value":0},"x2":{"value":200}}},{"mark":"square"}]},{"data":{"values":[{"x":11.083,"x2":12.095,"y":29.75,"y2":21.65,"cx":11.364,"tx":11.551,"cy":25.7,"r":-0.64,"t":"-0.64"}]},"layer":[{"mark":{"type":"rect","fill":"#fff","fillOpacity":0.8,"stroke":"#ccc","cornerRadius":5},"encoding":{"x2":{"field":"x2"},"y2":{"field":"y2"}}},{"mark":"circle","encoding":{"x":{"field":"cx","type":"quantitative"},"y":{"field":"cy","type":"quantitative"},"fill":{"field":"r","type":"quantitative","scale":{"domain":[-1,1],"scheme":"redblue"}}}},{"mark":{"type":"text","baseline":"middle","fontSize":21},"encoding":{"x":{"field":"tx","type":"quantitative"},"y":{"field":"cy","type":"quantitative"},"text":{"field":"t"}}}]},{"mark":{"type":"text","text":"log","dx":-85,"dy":85.5},"encoding":{"x":{"value":100},"y":{"value":200}}},{"mark":{"type":"text","text":"n","fontStyle":"italic","dx":-36,"dy":85.5},"encoding":{"x":{"value":100},"y":{"value":200}}},{"mark":{"type":"text","text":"0","fontSize":18.5,"dx":-19,"dy":91},"encoding":{"x":{"value":100},"y":{"value":200}}},{"mark":{"type":"text","text":"[cm","dx":-1,"dy":85.5},"encoding":{"x":{"value":100},"y":{"value":200}}},{"mark":{"type":"text","text":"−3","fontSize":18.5,"dx":50,"dy":75.5},"encoding":{"x":{"value":100},"y":{"value":200}}},{"mark":{"type":"text","text":"]","dx":77,"dy":85.5},"encoding":{"x":{"value":100},"y":{"value":200}}}]},
{"data":{"values":[{}]},"encoding":{"x":{"field":"x","type":"quantitative","scale":{"domain":[10,60]},"axis":{"title":null,"values":[20,30,40,50],"labels":true,"format":"d","labelPadding":21.5}},"y":{"field":"y","type":"quantitative","scale":{"domain":[20,50]},"axis":{"title":null,"values":[24,30,36,42,48]}}},"layer":[{"data":{"name":"c75"},"mark":{"type":"line","stroke":"#cdb6f9","strokeWidth":1.3,"clip":true},"encoding":{"detail":{"field":"g"},"fill":{"field":"l","type":"ordinal","scale":{"domain":[0,1,2,3,4]}},"order":{"value":null}}},{"data":{"values":[{"x":19.6,"y":40.5},{"x":32.7,"y":40.5},{"x":47.4,"y":40.5}]},"layer":[{"mark":"rule","encoding":{"y":{"value":0},"y2":{"value":200}}},{"mark":"rule","encoding":{"x":{"value":0},"x2":{"value":200}}},{"mark":"square"}]},{"data":{"values":[{"x":12.75,"x2":46.5,"y":29.75,"y2":21.65,"cx":22.1,"tx":28.4,"cy":25.7,"r":-0.02,"t":"-0.02"}]},"layer":[{"mark":{"type":"rect","fill":"#fff","fillOpacity":0.8,"stroke":"#ccc","cornerRadius":5},"encoding":{"x2":{"field":"x2"},"y2":{"field":"y2"}}},{"mark":"circle","encoding":{"x":{"field":"cx","type":"quantitative"},"y":{"field":"cy","type":"quantitative"},"fill":{"field":"r","type":"quantitative","scale":{"domain":[-1,1],"scheme":"redblue"}}}},{"mark":{"type":"text","baseline":"middle","fontSize":21},"encoding":{"x":{"field":"tx","type":"quantitative"},"y":{"field":"cy","type":"quantitative"},"text":{"field":"t"}}}]},{"mark":{"type":"text","text":"R","fontStyle":"italic","dx":-50,"dy":85.5},"encoding":{"x":{"value":100},"y":{"value":200}}},{"mark":{"type":"text","text":"D","fontSize":18.5,"dx":-31.6,"dy":91},"encoding":{"x":{"value":100},"y":{"value":200}}},{"mark":{"type":"text","text":"[","dx":-12,"dy":85.5},"encoding":{"x":{"value":100},"y":{"value":200}}},{"mark":{"type":"text","text":"R","fontStyle":"italic","dx":-2,"dy":85.5},"encoding":{"x":{"value":100},"y":{"value":200}}},{"mark":{"type":"text","text":"eq","fontSize":18.5,"dx":16.4,"dy":91},"encoding":{"x":{"value":100},"y":{"value":200}}},{"mark":{"type":"text","text":"]","dx":40,"dy":85.5},"encoding":{"x":{"value":100},"y":{"value":200}}}]},
{"data":{"values":[{}]},"encoding":{"x":{"field":"x","type":"quantitative","scale":{"domain":[2,3]},"axis":{"title":null,"values":[2.2,2.4,2.6,2.8],"labels":true,"format":".1f","labelPadding":23.5}},"y":{"field":"y","type":"quantitative","scale":{"domain":[20,50]},"axis":{"title":null,"values":[24,30,36,42,48]}}},"layer":[{"data":{"name":"c76"},"mark":{"type":"line","stroke":"#cdb6f9","strokeWidth":1.3,"clip":true},"encoding":{"detail":{"field":"g"},"fill":{"field":"l","type":"ordinal","scale":{"domain":[0,1,2,3,4]}},"order":{"value":null}}},{"data":{"values":[{"x":2.31,"y":40.5},{"x":2.63,"y":40.5},{"x":2.8,"y":40.5}]},"layer":[{"mark":"rule","encoding":{"y":{"value":0},"y2":{"value":200}}},{"mark":"rule","encoding":{"x":{"value":0},"x2":{"value":200}}},{"mark":"square"}]},{"data":{"values":[{"x":2.055,"x2":2.69,"y":29.75,"y2":21.65,"cx":2.245,"tx":2.37,"cy":25.7,"r":0.05,"t":"0.05"}]},"layer":[{"mark":{"type":"rect","fill":"#fff","fillOpacity":0.8,"stroke":"#ccc","cornerRadius":5},"encoding":{"x2":{"field":"x2"},"y2":{"field":"y2"}}},{"mark":"circle","encoding":{"x":{"field":"cx","type":"quantitative"},"y":{"field":"cy","type":"quantitative"},"fill":{"field":"r","type":"quantitative","scale":{"domain":[-1,1],"scheme":"redblue"}}}},{"mark":{"type":"text","baseline":"middle","fontSize":21},"encoding":{"x":{"field":"tx","type":"quantitative"},"y":{"field":"cy","type":"quantitative"},"text":{"field":"t"}}}]},{"mark":{"type":"text","text":"n","fontStyle":"italic","dx":-8.4,"dy":85.5},"encoding":{"x":{"value":100},"y":{"value":200}}}]},
{"width":200,"height":200,"data":{"values":[{}]},"layer":[{"data":{"values":[{"x":20,"c":0.382},{"x":21.5,"c":0.465},{"x":23,"c":0.517},{"x":24.5,"c":0.567},{"x":26,"c":0.667},{"x":27.5,"c":0.647},{"x":29,"c":0.722},{"x":30.5,"c":0.702},{"x":32,"c":0.777},{"x":33.5,"c":0.815},{"x":35,"c":0.765},{"x":36.5,"c":0.777},{"x":38,"c":0.81},{"x":39.5,"c":0.86},{"x":41,"c":0.843},{"x":42.5,"c":0.852},{"x":44,"c":0.843},{"x":45.5,"c":0.872},{"x":47,"c":0.885},{"x":48.5,"c":0.905},{"x":50,"c":0.905}]},"mark":{"type":"area","interpolate":"step-after","fill":"#5a00e8","fillOpacity":0.3},"encoding":{"x":{"field":"x","type":"quantitative","scale":{"domain":[20,50],"nice":false},"axis":{"title":null,"values":[24,30,36,42,48],"labels":true,"format":"d","labelPadding":21.5}},"y":{"field":"c","type":"quantitative","scale":{"domain":[0,1]},"axis":{"title":null,"values":[0,0.323,0.647,0.973]}}}},{"data":{"values":[{"x":31.1,"x2":49}]},"layer":[{"mark":{"type":"rect","fill":"#5a00e8","opacity":0.2},"encoding":{"x":{"field":"x","type":"quantitative"},"x2":{"field":"x2"},"y":{"value":0},"y2":{"value":200}}},{"mark":{"type":"rule","stroke":"#808080","strokeDash":[4,3],"strokeWidth":1.4},"encoding":{"x":{"field":"x","type":"quantitative"}}},{"mark":{"type":"rule","stroke":"#808080","strokeDash":[4,3],"strokeWidth":1.4},"encoding":{"x":{"field":"x2","type":"quantitative"}}}]},{"data":{"values":[{"x":40.5}]},"mark":"rule","encoding":{"x":{"field":"x","type":"quantitative"}}},{"mark":{"type":"text","text":"i","fontStyle":"italic","dx":-18,"dy":85.5},"encoding":{"x":{"value":100},"y":{"value":200}}},{"mark":{"type":"text","text":"[°]","dx":-11,"dy":85.5},"encoding":{"x":{"value":100},"y":{"value":200}}}]}
]}
